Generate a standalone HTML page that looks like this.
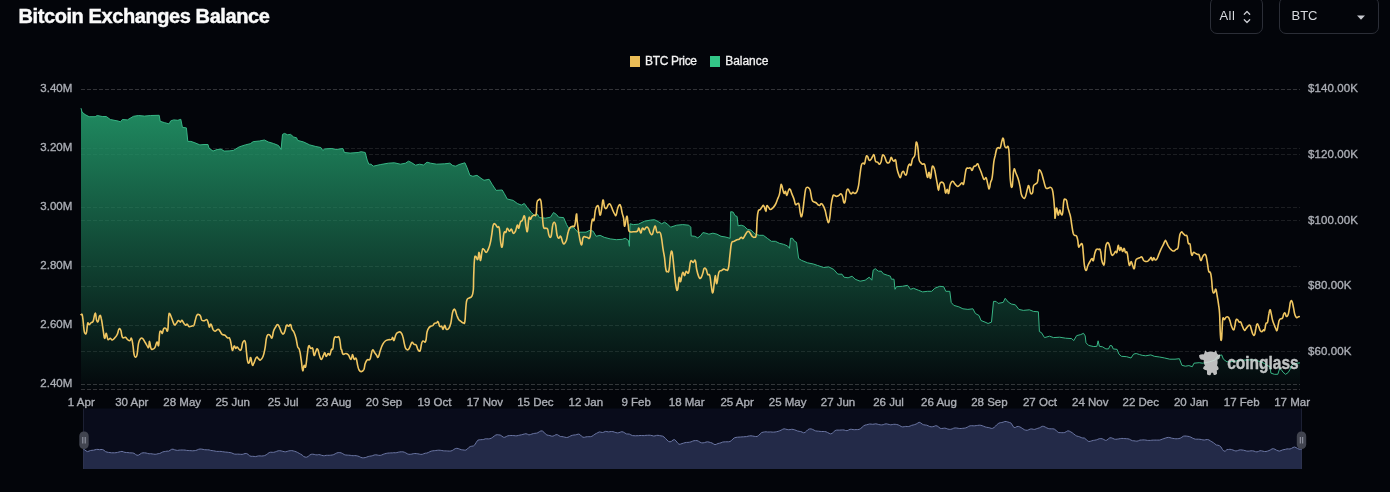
<!DOCTYPE html>
<html lang="en"><head><meta charset="utf-8"><title>Bitcoin Exchanges Balance</title>
<style>
html,body{margin:0;padding:0;background:#03050a;}
body{width:1390px;height:492px;position:relative;overflow:hidden;font-family:"Liberation Sans",sans-serif;}
.title{position:absolute;left:18.5px;top:3px;font-size:20px;font-weight:bold;color:#fafafa;-webkit-text-stroke:0.45px #fafafa;letter-spacing:-0.41px;white-space:nowrap;line-height:26px;}
.btn{position:absolute;top:-3px;height:37px;box-sizing:border-box;border:1px solid #2b2e37;border-radius:7px;color:#d7d9de;font-size:13px;line-height:35px;}
.btn span{position:absolute;top:0px;}
.legend{position:absolute;top:54px;font-size:12px;line-height:15px;color:#f2f2f2;white-space:nowrap;-webkit-text-stroke:0.3px #f2f2f2;}
.sq{position:absolute;top:56px;width:10px;height:10.5px;}
</style></head><body>
<svg width="1390" height="492" viewBox="0 0 1390 492" style="position:absolute;left:0;top:0">
<defs>
<linearGradient id="ga" x1="0" y1="89.5" x2="0" y2="389.5" gradientUnits="userSpaceOnUse">
<stop offset="0" stop-color="#229668" stop-opacity="0.98"/>
<stop offset="1" stop-color="#229668" stop-opacity="0.015"/>
</linearGradient>
</defs>
<line x1="81.0" x2="1300" y1="89.5" y2="89.5" stroke="#ffffff" stroke-opacity="0.10" stroke-width="1" stroke-dasharray="4 2"/>
<line x1="81.0" x2="1300" y1="148.5" y2="148.5" stroke="#ffffff" stroke-opacity="0.10" stroke-width="1" stroke-dasharray="4 2"/>
<line x1="81.0" x2="1300" y1="207.5" y2="207.5" stroke="#ffffff" stroke-opacity="0.10" stroke-width="1" stroke-dasharray="4 2"/>
<line x1="81.0" x2="1300" y1="266.5" y2="266.5" stroke="#ffffff" stroke-opacity="0.10" stroke-width="1" stroke-dasharray="4 2"/>
<line x1="81.0" x2="1300" y1="325.5" y2="325.5" stroke="#ffffff" stroke-opacity="0.10" stroke-width="1" stroke-dasharray="4 2"/>
<line x1="81.0" x2="1300" y1="384.5" y2="384.5" stroke="#ffffff" stroke-opacity="0.10" stroke-width="1" stroke-dasharray="4 2"/>
<line x1="81.0" x2="1300" y1="89.5" y2="89.5" stroke="#ffffff" stroke-opacity="0.10" stroke-width="1" stroke-dasharray="4 2"/>
<line x1="81.0" x2="1300" y1="154.5" y2="154.5" stroke="#ffffff" stroke-opacity="0.10" stroke-width="1" stroke-dasharray="4 2"/>
<line x1="81.0" x2="1300" y1="220.5" y2="220.5" stroke="#ffffff" stroke-opacity="0.10" stroke-width="1" stroke-dasharray="4 2"/>
<line x1="81.0" x2="1300" y1="286.5" y2="286.5" stroke="#ffffff" stroke-opacity="0.10" stroke-width="1" stroke-dasharray="4 2"/>
<line x1="81.0" x2="1300" y1="351.5" y2="351.5" stroke="#ffffff" stroke-opacity="0.10" stroke-width="1" stroke-dasharray="4 2"/>
<line x1="81.0" x2="1300" y1="389.5" y2="389.5" stroke="#ffffff" stroke-opacity="0.10" stroke-width="1" stroke-dasharray="4 2"/>
<line x1="81.0" x2="1300" y1="389.5" y2="389.5" stroke="#ffffff" stroke-opacity="0.10" stroke-width="1" stroke-dasharray="4 2"/>
<line x1="81.0" x2="1300" y1="384.5" y2="384.5" stroke="#ffffff" stroke-opacity="0.10" stroke-width="1" stroke-dasharray="4 2"/>
<path d="M81.0,108.2 L82.1,112.2 L85.1,114.6 L89.1,116.7 L95.2,116.7 L97.2,115.5 L102.2,116.5 L106.3,116.5 L110.3,119.5 L118.3,121.1 L120.4,121.9 L122.4,119.5 L127.4,119.9 L133.5,116.3 L138.5,115.5 L144.5,116.1 L150.6,115.5 L159.2,115.3 L160.2,121.3 L164.7,122.7 L169.1,123.9 L170.7,120.9 L173.7,119.9 L177.8,120.3 L180.8,119.3 L182.4,127.3 L186.4,127.9 L187.8,141.4 L190.9,141.4 L194.9,142.8 L199.9,144.9 L204.0,144.5 L208.0,144.5 L209.0,148.1 L213.0,151.1 L217.1,149.5 L221.1,149.1 L224.1,151.1 L229.1,150.9 L233.2,150.5 L239.2,146.9 L245.3,144.9 L250.3,143.7 L253.3,141.6 L259.4,141.0 L264.4,140.0 L268.4,142.0 L273.5,143.5 L278.5,145.5 L281.1,149.5 L282.5,134.4 L284.5,133.4 L287.6,134.8 L290.6,134.4 L293.6,137.0 L296.6,137.8 L297.6,140.4 L303.7,142.0 L309.7,144.9 L315.8,146.5 L320.8,147.5 L322.8,150.5 L324.8,148.9 L331.9,148.5 L335.9,149.5 L342.9,148.5 L344.4,152.5 L350.1,153.1 L358.1,152.5 L361.2,151.7 L365.2,152.5 L367.2,160.1 L368.8,164.2 L371.2,164.2 L373.2,166.2 L380.3,164.6 L388.3,163.2 L394.4,162.8 L400.4,164.2 L405.5,163.2 L408.5,161.2 L411.5,162.6 L415.5,165.2 L419.6,164.2 L423.6,165.0 L427.0,162.2 L430.6,163.2 L436.7,164.2 L444.7,163.8 L449.8,163.2 L452.8,165.6 L455.8,166.2 L458.8,164.6 L464.9,162.8 L466.9,167.2 L469.9,175.3 L472.9,176.3 L477.0,175.3 L481.0,178.3 L484.0,180.3 L489.1,179.3 L492.1,184.3 L496.1,190.4 L502.2,190.0 L504.2,193.4 L507.2,199.0 L513.2,200.4 L517.3,203.5 L521.3,205.1 L524.3,203.5 L527.3,207.5 L531.4,212.5 L534.4,215.5 L537.4,214.1 L539.4,217.6 L545.5,218.2 L550.5,217.2 L553.5,212.5 L556.5,214.5 L558.6,217.2 L563.6,217.6 L566.6,224.6 L568.6,228.2 L573.7,227.6 L578.7,233.1 L580.0,232.2 L586.0,232.2 L590.1,230.2 L593.1,231.2 L596.1,236.3 L600.1,235.3 L604.2,237.3 L610.2,238.9 L616.3,239.7 L622.3,239.3 L625.3,238.3 L628.3,240.3 L629.4,246.3 L630.0,223.8 L633.4,224.6 L638.4,224.2 L644.5,221.2 L650.5,220.1 L654.5,219.7 L658.6,221.8 L661.6,223.8 L664.6,222.2 L667.6,224.2 L670.6,227.2 L676.7,225.2 L682.7,224.6 L688.8,225.2 L690.8,227.2 L691.2,235.9 L694.8,236.3 L697.8,237.9 L700.9,235.3 L702.9,232.6 L705.9,233.2 L708.9,234.2 L712.9,233.2 L717.0,234.2 L721.0,236.3 L725.0,236.9 L730.1,238.3 L730.7,211.7 L733.1,212.1 L735.1,215.7 L737.1,216.5 L738.1,225.8 L741.2,225.2 L744.2,226.2 L747.2,229.2 L751.2,230.2 L755.3,234.2 L759.3,235.3 L763.3,235.3 L767.3,238.3 L771.4,241.3 L775.4,241.3 L779.4,243.3 L783.5,244.3 L787.5,245.9 L789.5,248.3 L790.5,238.3 L792.5,238.3 L794.5,241.3 L796.5,242.3 L798.6,258.4 L801.6,260.4 L807.6,262.8 L813.7,264.1 L817.7,265.5 L823.7,267.5 L828.8,266.9 L833.8,269.5 L837.8,274.1 L840.0,274.2 L842.0,274.2 L844.0,277.2 L848.1,277.8 L852.1,276.2 L855.1,279.2 L860.1,281.2 L865.2,280.2 L869.2,277.2 L871.8,280.2 L873.2,270.1 L875.3,268.7 L878.3,271.2 L881.3,271.2 L883.3,273.8 L887.3,275.2 L890.4,276.2 L891.4,279.2 L894.0,279.2 L895.0,289.3 L896.4,286.7 L902.4,286.3 L907.5,285.3 L910.5,289.3 L913.5,288.3 L918.6,290.3 L922.6,291.9 L927.6,291.3 L931.7,291.3 L934.7,288.3 L939.7,286.3 L943.7,286.7 L945.8,291.3 L949.8,291.3 L951.2,302.4 L953.8,305.4 L958.8,306.8 L962.9,308.8 L967.9,309.4 L972.9,308.8 L975.4,313.5 L979.0,315.5 L981.0,320.5 L985.0,322.1 L988.1,323.5 L991.5,322.1 L993.5,301.4 L996.1,301.4 L998.1,303.4 L1003.2,302.4 L1005.2,298.3 L1008.2,302.0 L1011.2,304.0 L1015.3,304.8 L1018.9,309.4 L1023.3,310.4 L1029.4,309.8 L1033.4,311.4 L1038.4,311.8 L1039.4,331.6 L1041.4,332.6 L1044.5,337.6 L1049.5,336.2 L1053.5,337.6 L1059.6,337.2 L1065.6,338.2 L1071.7,338.6 L1073.7,340.6 L1076.7,335.6 L1080.7,334.6 L1083.5,333.3 L1085.2,335.9 L1086.0,342.8 L1088.6,345.4 L1093.8,346.6 L1096.9,346.3 L1098.1,340.8 L1099.4,346.3 L1102.5,346.8 L1105.9,348.9 L1108.5,348.9 L1110.2,345.4 L1112.0,345.9 L1113.2,348.9 L1117.1,349.4 L1118.9,354.1 L1121.5,356.3 L1126.7,356.7 L1131.0,358.0 L1133.6,354.1 L1136.2,353.5 L1139.6,354.6 L1142.2,355.3 L1145.7,355.8 L1150.8,354.9 L1154.3,356.3 L1159.5,357.0 L1164.7,358.0 L1169.8,359.2 L1175.0,359.2 L1179.4,358.7 L1181.9,365.3 L1185.4,366.2 L1188.9,365.6 L1192.3,366.7 L1194.0,363.2 L1199.2,362.7 L1202.7,363.2 L1209.6,361.8 L1214.8,360.1 L1218.2,355.8 L1221.7,354.9 L1223.4,359.2 L1226.9,361.8 L1230.3,361.8 L1235.5,361.0 L1244.1,360.1 L1252.8,359.8 L1261.4,361.8 L1270.1,367.0 L1270.9,373.1 L1274.4,374.3 L1277.8,374.3 L1279.6,368.7 L1281.3,369.6 L1283.0,372.2 L1285.6,374.3 L1288.2,372.5 L1289.9,369.6 L1291.7,365.3 L1293.4,363.9 L1299.1,362.9 L1300.0,362.9 L1300.0,389.5 L81.0,389.5 Z" fill="url(#ga)"/>
<path d="M81.0,108.2 L82.1,112.2 L85.1,114.6 L89.1,116.7 L95.2,116.7 L97.2,115.5 L102.2,116.5 L106.3,116.5 L110.3,119.5 L118.3,121.1 L120.4,121.9 L122.4,119.5 L127.4,119.9 L133.5,116.3 L138.5,115.5 L144.5,116.1 L150.6,115.5 L159.2,115.3 L160.2,121.3 L164.7,122.7 L169.1,123.9 L170.7,120.9 L173.7,119.9 L177.8,120.3 L180.8,119.3 L182.4,127.3 L186.4,127.9 L187.8,141.4 L190.9,141.4 L194.9,142.8 L199.9,144.9 L204.0,144.5 L208.0,144.5 L209.0,148.1 L213.0,151.1 L217.1,149.5 L221.1,149.1 L224.1,151.1 L229.1,150.9 L233.2,150.5 L239.2,146.9 L245.3,144.9 L250.3,143.7 L253.3,141.6 L259.4,141.0 L264.4,140.0 L268.4,142.0 L273.5,143.5 L278.5,145.5 L281.1,149.5 L282.5,134.4 L284.5,133.4 L287.6,134.8 L290.6,134.4 L293.6,137.0 L296.6,137.8 L297.6,140.4 L303.7,142.0 L309.7,144.9 L315.8,146.5 L320.8,147.5 L322.8,150.5 L324.8,148.9 L331.9,148.5 L335.9,149.5 L342.9,148.5 L344.4,152.5 L350.1,153.1 L358.1,152.5 L361.2,151.7 L365.2,152.5 L367.2,160.1 L368.8,164.2 L371.2,164.2 L373.2,166.2 L380.3,164.6 L388.3,163.2 L394.4,162.8 L400.4,164.2 L405.5,163.2 L408.5,161.2 L411.5,162.6 L415.5,165.2 L419.6,164.2 L423.6,165.0 L427.0,162.2 L430.6,163.2 L436.7,164.2 L444.7,163.8 L449.8,163.2 L452.8,165.6 L455.8,166.2 L458.8,164.6 L464.9,162.8 L466.9,167.2 L469.9,175.3 L472.9,176.3 L477.0,175.3 L481.0,178.3 L484.0,180.3 L489.1,179.3 L492.1,184.3 L496.1,190.4 L502.2,190.0 L504.2,193.4 L507.2,199.0 L513.2,200.4 L517.3,203.5 L521.3,205.1 L524.3,203.5 L527.3,207.5 L531.4,212.5 L534.4,215.5 L537.4,214.1 L539.4,217.6 L545.5,218.2 L550.5,217.2 L553.5,212.5 L556.5,214.5 L558.6,217.2 L563.6,217.6 L566.6,224.6 L568.6,228.2 L573.7,227.6 L578.7,233.1 L580.0,232.2 L586.0,232.2 L590.1,230.2 L593.1,231.2 L596.1,236.3 L600.1,235.3 L604.2,237.3 L610.2,238.9 L616.3,239.7 L622.3,239.3 L625.3,238.3 L628.3,240.3 L629.4,246.3 L630.0,223.8 L633.4,224.6 L638.4,224.2 L644.5,221.2 L650.5,220.1 L654.5,219.7 L658.6,221.8 L661.6,223.8 L664.6,222.2 L667.6,224.2 L670.6,227.2 L676.7,225.2 L682.7,224.6 L688.8,225.2 L690.8,227.2 L691.2,235.9 L694.8,236.3 L697.8,237.9 L700.9,235.3 L702.9,232.6 L705.9,233.2 L708.9,234.2 L712.9,233.2 L717.0,234.2 L721.0,236.3 L725.0,236.9 L730.1,238.3 L730.7,211.7 L733.1,212.1 L735.1,215.7 L737.1,216.5 L738.1,225.8 L741.2,225.2 L744.2,226.2 L747.2,229.2 L751.2,230.2 L755.3,234.2 L759.3,235.3 L763.3,235.3 L767.3,238.3 L771.4,241.3 L775.4,241.3 L779.4,243.3 L783.5,244.3 L787.5,245.9 L789.5,248.3 L790.5,238.3 L792.5,238.3 L794.5,241.3 L796.5,242.3 L798.6,258.4 L801.6,260.4 L807.6,262.8 L813.7,264.1 L817.7,265.5 L823.7,267.5 L828.8,266.9 L833.8,269.5 L837.8,274.1 L840.0,274.2 L842.0,274.2 L844.0,277.2 L848.1,277.8 L852.1,276.2 L855.1,279.2 L860.1,281.2 L865.2,280.2 L869.2,277.2 L871.8,280.2 L873.2,270.1 L875.3,268.7 L878.3,271.2 L881.3,271.2 L883.3,273.8 L887.3,275.2 L890.4,276.2 L891.4,279.2 L894.0,279.2 L895.0,289.3 L896.4,286.7 L902.4,286.3 L907.5,285.3 L910.5,289.3 L913.5,288.3 L918.6,290.3 L922.6,291.9 L927.6,291.3 L931.7,291.3 L934.7,288.3 L939.7,286.3 L943.7,286.7 L945.8,291.3 L949.8,291.3 L951.2,302.4 L953.8,305.4 L958.8,306.8 L962.9,308.8 L967.9,309.4 L972.9,308.8 L975.4,313.5 L979.0,315.5 L981.0,320.5 L985.0,322.1 L988.1,323.5 L991.5,322.1 L993.5,301.4 L996.1,301.4 L998.1,303.4 L1003.2,302.4 L1005.2,298.3 L1008.2,302.0 L1011.2,304.0 L1015.3,304.8 L1018.9,309.4 L1023.3,310.4 L1029.4,309.8 L1033.4,311.4 L1038.4,311.8 L1039.4,331.6 L1041.4,332.6 L1044.5,337.6 L1049.5,336.2 L1053.5,337.6 L1059.6,337.2 L1065.6,338.2 L1071.7,338.6 L1073.7,340.6 L1076.7,335.6 L1080.7,334.6 L1083.5,333.3 L1085.2,335.9 L1086.0,342.8 L1088.6,345.4 L1093.8,346.6 L1096.9,346.3 L1098.1,340.8 L1099.4,346.3 L1102.5,346.8 L1105.9,348.9 L1108.5,348.9 L1110.2,345.4 L1112.0,345.9 L1113.2,348.9 L1117.1,349.4 L1118.9,354.1 L1121.5,356.3 L1126.7,356.7 L1131.0,358.0 L1133.6,354.1 L1136.2,353.5 L1139.6,354.6 L1142.2,355.3 L1145.7,355.8 L1150.8,354.9 L1154.3,356.3 L1159.5,357.0 L1164.7,358.0 L1169.8,359.2 L1175.0,359.2 L1179.4,358.7 L1181.9,365.3 L1185.4,366.2 L1188.9,365.6 L1192.3,366.7 L1194.0,363.2 L1199.2,362.7 L1202.7,363.2 L1209.6,361.8 L1214.8,360.1 L1218.2,355.8 L1221.7,354.9 L1223.4,359.2 L1226.9,361.8 L1230.3,361.8 L1235.5,361.0 L1244.1,360.1 L1252.8,359.8 L1261.4,361.8 L1270.1,367.0 L1270.9,373.1 L1274.4,374.3 L1277.8,374.3 L1279.6,368.7 L1281.3,369.6 L1283.0,372.2 L1285.6,374.3 L1288.2,372.5 L1289.9,369.6 L1291.7,365.3 L1293.4,363.9 L1299.1,362.9 L1300.0,362.9" fill="none" stroke="#38b585" stroke-width="1" stroke-linejoin="round"/>
<path d="M81.0,314.6 C81.3,315.0 81.8,312.5 82.5,316.2 C83.2,319.9 83.5,326.3 84.1,330.3 C84.7,334.3 84.5,332.8 85.1,333.3 C85.7,333.8 85.9,334.7 86.5,332.3 C87.1,330.0 87.1,325.0 87.7,323.2 C88.3,321.5 88.3,324.8 89.1,324.6 C89.9,324.5 90.2,323.4 91.2,322.6 C92.1,321.8 92.2,323.4 93.2,321.2 C94.1,319.0 94.4,313.4 95.2,313.2 C96.0,312.9 95.9,318.3 96.6,320.2 C97.3,322.1 97.5,322.3 98.2,321.2 C98.9,320.2 98.9,316.5 99.6,315.8 C100.3,315.1 100.4,314.8 101.2,318.2 C102.1,321.6 102.4,325.6 103.2,330.3 C104.0,335.0 103.9,337.6 104.6,338.3 C105.4,339.1 105.5,333.1 106.3,333.3 C107.0,333.5 106.9,338.2 107.9,339.4 C108.8,340.5 109.3,338.2 110.3,338.3 C111.3,338.5 111.1,340.2 112.3,340.0 C113.5,339.7 114.1,338.7 115.3,337.3 C116.5,336.0 116.5,336.2 117.3,334.3 C118.2,332.4 118.2,330.2 118.9,329.3 C119.7,328.3 120.0,328.4 120.8,330.3 C121.6,332.2 121.3,335.7 122.4,337.3 C123.5,339.0 124.2,336.9 125.4,337.3 C126.6,337.8 126.4,338.6 127.4,339.4 C128.4,340.2 128.9,341.0 129.8,340.8 C130.8,340.5 130.7,337.5 131.4,338.3 C132.1,339.2 132.2,340.6 132.8,344.4 C133.5,348.1 133.4,351.5 134.1,354.5 C134.7,357.4 134.8,357.1 135.5,357.1 C136.2,357.1 136.4,357.7 137.1,354.5 C137.8,351.3 137.7,347.0 138.5,343.4 C139.3,339.7 139.6,339.9 140.5,338.7 C141.4,337.6 141.5,337.6 142.5,338.3 C143.6,339.1 143.9,340.3 144.9,342.0 C146.0,343.6 146.1,344.1 146.9,345.4 C147.8,346.7 148.0,348.4 148.6,347.4 C149.2,346.5 149.0,341.1 149.6,341.4 C150.1,341.6 150.2,346.6 151.0,348.4 C151.8,350.2 152.1,349.3 153.0,349.0 C153.9,348.8 154.1,349.1 155.0,347.4 C155.9,345.8 156.2,342.4 157.0,342.0 C157.9,341.5 158.0,347.4 158.6,345.4 C159.2,343.4 159.1,336.6 159.6,333.3 C160.2,330.0 160.4,331.3 161.1,331.3 C161.7,331.3 161.6,333.9 162.3,333.3 C162.9,332.7 162.9,329.9 163.7,328.7 C164.5,327.5 164.7,327.9 165.7,328.3 C166.6,328.6 167.0,333.1 167.7,330.3 C168.4,327.5 168.2,320.0 168.7,316.2 C169.2,312.3 169.0,313.3 169.7,313.8 C170.4,314.2 170.6,315.7 171.7,318.2 C172.8,320.7 173.3,323.5 174.3,324.6 C175.4,325.8 175.4,324.2 176.4,323.2 C177.3,322.3 177.4,320.9 178.4,320.6 C179.3,320.4 179.6,322.3 180.4,322.2 C181.2,322.1 181.0,320.0 181.8,320.2 C182.6,320.5 182.9,322.1 183.8,323.2 C184.8,324.4 185.0,325.0 185.8,325.3 C186.6,325.5 186.4,323.9 187.2,324.2 C188.0,324.6 188.2,326.3 189.3,326.7 C190.3,327.0 190.8,326.2 191.9,325.9 C193.0,325.5 193.1,326.6 193.9,325.3 C194.7,323.9 194.6,322.6 195.3,320.2 C196.0,317.9 196.1,316.5 196.9,315.2 C197.8,313.9 198.1,314.3 198.9,314.6 C199.8,314.8 199.8,314.9 200.5,316.2 C201.2,317.5 201.0,319.2 201.9,320.2 C202.9,321.2 203.4,320.7 204.6,320.6 C205.7,320.5 206.0,319.0 207.0,319.8 C207.9,320.7 208.0,322.5 208.6,324.2 C209.2,326.0 208.8,327.3 209.4,327.3 C210.0,327.3 210.2,323.8 211.0,324.2 C211.9,324.7 212.1,327.6 213.0,329.3 C214.0,330.9 213.9,331.3 215.0,331.3 C216.2,331.3 216.9,329.3 218.1,329.3 C219.2,329.3 219.1,330.1 220.1,331.3 C221.0,332.5 220.9,333.4 222.1,334.3 C223.3,335.3 223.8,334.5 225.1,335.3 C226.4,336.2 226.4,337.2 227.5,337.9 C228.6,338.6 228.9,336.8 229.7,338.3 C230.6,339.8 230.5,341.6 231.2,344.4 C231.8,347.2 231.7,350.1 232.4,350.4 C233.1,350.8 233.4,346.5 234.2,346.0 C234.9,345.5 234.9,348.2 235.6,348.4 C236.3,348.7 236.3,346.8 237.2,347.0 C238.0,347.2 238.3,348.9 239.2,349.4 C240.1,350.0 240.4,351.1 241.2,349.4 C242.1,347.8 241.9,344.1 242.8,342.4 C243.8,340.6 244.4,339.6 245.3,342.0 C246.1,344.3 245.9,347.9 246.5,352.4 C247.0,357.0 247.0,359.2 247.7,361.5 C248.3,363.9 248.6,363.5 249.3,362.5 C250.0,361.6 250.0,356.9 250.7,357.5 C251.4,358.0 251.6,363.5 252.3,364.9 C253.0,366.3 252.8,365.3 253.7,363.5 C254.7,361.8 255.2,358.7 256.3,357.5 C257.4,356.3 257.4,357.9 258.3,358.5 C259.3,359.1 259.3,360.6 260.4,360.1 C261.4,359.6 261.9,359.2 263.0,356.5 C264.1,353.7 264.2,352.6 265.0,348.4 C265.8,344.2 265.7,341.5 266.4,338.3 C267.1,335.1 267.2,335.4 268.0,334.7 C268.9,334.0 269.1,334.6 270.0,335.3 C271.0,336.1 271.2,338.9 272.0,337.9 C272.8,337.0 272.7,333.8 273.5,331.3 C274.3,328.8 274.5,328.8 275.5,327.3 C276.4,325.7 276.5,324.6 277.5,324.6 C278.4,324.6 278.6,325.5 279.5,327.3 C280.4,329.1 280.6,330.8 281.5,332.3 C282.5,333.9 282.7,334.4 283.5,333.9 C284.4,333.4 284.4,332.3 285.1,330.3 C285.8,328.3 285.7,326.2 286.5,325.3 C287.3,324.3 287.6,326.4 288.6,326.3 C289.5,326.1 289.8,323.9 290.6,324.6 C291.4,325.4 291.2,327.5 292.0,329.3 C292.8,331.1 293.1,330.2 294.0,332.3 C294.9,334.4 295.2,335.1 296.0,338.3 C296.9,341.6 296.8,343.6 297.6,346.4 C298.5,349.2 298.8,347.1 299.6,350.4 C300.5,353.7 300.5,355.8 301.3,360.5 C302.0,365.2 302.0,369.4 302.7,370.6 C303.3,371.8 303.4,366.5 304.1,365.5 C304.8,364.6 304.9,369.1 305.7,366.5 C306.4,364.0 306.6,359.3 307.3,354.5 C308.0,349.7 307.9,347.4 308.7,346.0 C309.5,344.6 309.8,347.9 310.7,348.4 C311.7,349.0 311.9,346.8 312.7,348.4 C313.5,350.1 313.3,355.0 314.1,355.5 C314.9,355.9 315.3,351.8 316.2,350.4 C317.0,349.0 316.9,348.0 317.8,349.4 C318.6,350.8 318.9,354.1 319.8,356.5 C320.6,358.8 320.5,359.7 321.4,359.5 C322.2,359.3 322.6,357.0 323.4,355.5 C324.2,353.9 324.2,352.6 324.8,352.8 C325.5,353.1 325.4,356.3 326.2,356.5 C327.0,356.6 327.4,353.8 328.2,353.5 C329.1,353.1 329.1,355.8 329.9,354.9 C330.6,353.9 330.8,350.9 331.5,349.4 C332.2,347.9 332.2,351.0 332.9,348.4 C333.5,345.8 333.3,340.9 334.3,338.3 C335.2,335.8 335.7,337.4 336.9,337.3 C338.1,337.2 338.4,335.4 339.3,337.9 C340.3,340.5 340.4,345.7 340.9,348.4 C341.5,351.1 341.1,348.1 341.6,349.5 C342.1,350.8 342.0,353.2 343.0,354.1 C344.1,355.0 344.8,353.3 346.0,353.5 C347.3,353.7 347.3,353.7 348.5,355.1 C349.6,356.5 350.1,359.7 351.1,359.5 C352.0,359.4 351.8,354.6 352.5,354.5 C353.2,354.4 353.3,358.2 354.1,359.1 C354.9,360.1 355.3,357.0 356.1,358.5 C357.0,360.0 357.0,362.9 357.7,365.6 C358.4,368.3 358.3,368.6 359.1,370.0 C359.9,371.4 360.1,371.7 361.2,371.6 C362.2,371.5 362.8,371.5 363.8,369.6 C364.7,367.7 364.4,365.8 365.2,363.6 C366.0,361.3 366.1,360.9 367.2,359.9 C368.3,359.0 368.9,360.8 369.8,359.5 C370.8,358.3 370.6,356.8 371.2,354.5 C371.9,352.2 371.8,350.3 372.6,349.9 C373.4,349.4 373.7,351.2 374.6,352.5 C375.6,353.8 375.8,354.4 376.7,355.5 C377.5,356.6 377.4,358.3 378.3,357.1 C379.1,355.9 379.3,353.4 380.3,350.5 C381.3,347.5 381.5,346.6 382.7,344.4 C383.9,342.2 384.0,342.1 385.3,341.0 C386.6,339.9 386.9,340.2 388.3,339.8 C389.8,339.4 390.3,340.0 391.4,339.4 C392.4,338.8 392.2,337.1 392.8,337.4 C393.4,337.6 393.2,341.1 394.0,340.4 C394.7,339.7 395.0,336.2 396.0,334.4 C397.0,332.5 397.3,332.8 398.4,332.3 C399.5,331.9 399.8,331.4 400.8,332.3 C401.9,333.3 402.0,333.5 402.8,336.4 C403.7,339.2 403.7,341.5 404.5,344.4 C405.2,347.4 405.1,347.9 406.1,349.1 C407.0,350.2 407.5,350.3 408.5,349.5 C409.5,348.6 409.7,347.1 410.5,345.4 C411.3,343.8 411.3,342.6 412.1,342.4 C413.0,342.2 413.2,343.8 414.1,344.4 C415.1,345.0 415.2,343.8 416.1,345.0 C417.1,346.3 417.2,348.6 418.2,349.9 C419.1,351.1 419.4,352.0 420.2,350.5 C421.0,349.0 420.9,345.6 421.6,343.4 C422.2,341.2 422.1,341.5 423.0,341.0 C423.9,340.5 424.7,343.4 425.6,341.4 C426.6,339.4 426.3,335.4 427.0,332.3 C427.7,329.3 427.8,329.7 428.6,328.3 C429.5,326.9 429.7,326.9 430.6,326.3 C431.6,325.7 431.7,326.4 432.7,325.7 C433.6,325.0 433.7,323.9 434.7,323.3 C435.6,322.6 435.9,323.2 436.7,322.9 C437.5,322.5 437.4,320.9 438.1,321.7 C438.8,322.5 438.9,325.2 439.7,326.3 C440.6,327.4 440.9,325.6 441.7,326.3 C442.5,327.0 442.4,329.6 443.1,329.3 C443.8,329.1 444.0,325.3 444.7,325.3 C445.5,325.3 445.4,328.6 446.4,329.3 C447.3,330.0 447.7,329.7 448.8,328.3 C449.8,326.9 449.9,326.8 450.8,323.3 C451.6,319.7 451.7,316.4 452.4,313.2 C453.1,310.0 453.2,310.3 453.8,309.6 C454.5,308.9 454.5,308.9 455.2,310.2 C455.9,311.5 456.0,313.0 456.8,315.2 C457.7,317.4 457.9,318.2 458.8,319.6 C459.8,321.1 459.8,320.5 460.9,321.3 C461.9,322.0 462.3,322.9 463.3,322.9 C464.2,322.9 464.3,324.9 464.9,321.3 C465.5,317.6 465.4,312.1 465.9,307.2 C466.4,302.2 466.2,302.2 466.9,300.1 C467.6,298.0 467.7,299.0 468.9,298.1 C470.1,297.2 470.9,298.2 471.9,296.1 C473.0,294.0 472.9,293.8 473.4,289.0 C473.7,284.2 473.4,282.5 473.7,275.6 C474.0,268.7 474.0,263.9 474.5,259.5 C475.0,255.0 475.0,256.4 475.7,256.4 C476.5,256.4 476.9,260.4 477.7,259.5 C478.5,258.5 478.5,252.2 479.1,252.4 C479.8,252.6 479.8,260.9 480.5,260.5 C481.3,260.0 481.4,253.0 482.2,250.4 C482.9,247.8 482.8,248.9 483.8,249.4 C484.7,249.9 485.2,252.4 486.2,252.4 C487.2,252.4 487.3,251.5 488.2,249.4 C489.1,247.3 489.4,246.9 490.2,243.3 C491.1,239.8 491.1,238.5 491.8,234.3 C492.5,230.1 492.4,227.6 493.2,225.2 C494.0,222.9 494.3,223.7 495.3,224.2 C496.2,224.7 496.3,226.3 497.3,227.2 C498.2,228.2 498.5,224.7 499.3,228.2 C500.1,231.8 500.0,238.1 500.7,242.3 C501.4,246.6 501.6,248.5 502.3,246.4 C503.1,244.3 503.1,236.6 503.9,233.3 C504.8,230.0 505.1,233.4 505.9,232.3 C506.7,231.1 506.5,228.5 507.3,228.2 C508.1,228.0 508.4,231.0 509.4,231.3 C510.3,231.5 510.4,228.8 511.4,229.2 C512.3,229.7 512.4,232.8 513.4,233.3 C514.3,233.7 514.5,233.1 515.4,231.3 C516.3,229.4 516.6,225.9 517.4,225.2 C518.2,224.5 518.1,228.9 518.8,228.2 C519.5,227.5 519.6,224.1 520.4,222.2 C521.3,220.3 521.5,221.6 522.4,220.2 C523.4,218.8 523.6,214.5 524.5,216.2 C525.3,217.8 525.4,223.8 526.1,227.2 C526.8,230.7 526.8,233.0 527.5,230.9 C528.1,228.7 528.2,220.9 528.9,218.2 C529.6,215.4 529.8,219.6 530.5,219.2 C531.3,218.7 531.3,217.1 532.1,216.2 C533.0,215.2 533.2,215.6 534.1,215.1 C535.1,214.7 535.5,217.0 536.1,214.1 C536.8,211.3 536.4,206.3 536.9,203.1 C537.5,199.8 537.7,200.7 538.6,200.0 C539.4,199.3 539.9,198.4 540.6,200.0 C541.3,201.7 541.1,202.6 541.6,207.1 C542.1,211.6 542.1,214.5 542.6,219.2 C543.1,223.9 542.9,225.1 543.6,227.2 C544.3,229.3 544.7,227.8 545.6,228.2 C546.6,228.7 546.8,227.6 547.6,229.2 C548.4,230.9 548.2,233.6 549.0,235.3 C549.8,236.9 550.2,238.6 551.1,236.3 C551.9,233.9 551.9,228.5 552.7,225.2 C553.4,221.9 553.6,222.2 554.3,222.2 C555.0,222.2 555.0,222.2 555.7,225.2 C556.3,228.3 556.4,232.2 557.1,235.3 C557.8,238.3 557.9,238.1 558.7,238.3 C559.6,238.5 559.8,235.4 560.7,236.3 C561.7,237.2 561.9,240.6 562.7,242.3 C563.6,244.1 563.5,244.2 564.3,243.7 C565.2,243.3 565.4,243.2 566.4,240.3 C567.3,237.4 567.4,234.3 568.4,231.3 C569.3,228.2 569.4,228.4 570.4,227.2 C571.4,226.1 571.8,226.7 572.8,226.2 C573.8,225.8 574.0,228.0 574.8,225.2 C575.7,222.4 575.9,215.1 576.4,214.1 C577.0,213.2 576.7,216.7 577.2,221.2 C577.8,225.7 578.1,228.3 578.8,233.3 C579.6,238.2 579.8,239.8 580.5,242.3 C581.2,244.9 581.2,245.5 581.9,244.4 C582.5,243.2 582.1,238.9 583.3,237.3 C584.5,235.7 585.4,237.3 586.9,237.3 C588.5,237.3 588.9,240.1 589.9,237.3 C591.0,234.5 590.7,229.4 591.3,225.2 C591.9,221.0 591.9,220.3 592.5,219.2 C593.2,218.0 593.3,222.3 594.0,220.2 C594.6,218.1 594.7,213.4 595.4,210.1 C596.1,206.8 596.2,206.8 597.0,206.1 C597.7,205.4 597.9,205.0 598.6,207.1 C599.3,209.2 599.3,214.7 600.0,215.1 C600.7,215.6 600.9,212.6 601.6,209.1 C602.3,205.6 602.3,200.5 603.0,200.0 C603.7,199.6 603.8,205.2 604.6,207.1 C605.5,209.0 605.7,208.8 606.6,208.1 C607.6,207.4 607.7,204.8 608.7,204.1 C609.6,203.4 609.7,203.7 610.7,205.1 C611.6,206.5 611.8,208.0 612.7,210.1 C613.6,212.2 613.9,213.0 614.7,214.1 C615.5,215.3 615.5,216.3 616.1,215.1 C616.8,214.0 616.8,211.5 617.5,209.1 C618.2,206.8 618.4,205.8 619.1,205.1 C619.9,204.4 620.0,204.2 620.7,206.1 C621.5,208.0 621.5,210.3 622.2,213.1 C622.8,215.9 623.0,215.1 623.6,218.2 C624.2,221.2 624.0,226.7 624.8,226.2 C625.5,225.8 626.0,216.4 626.8,216.2 C627.6,215.9 627.6,221.7 628.2,225.2 C628.8,228.7 628.2,229.8 629.2,231.3 C630.4,232.8 631.4,231.7 633.2,231.7 C635.1,231.7 636.0,232.1 637.3,231.3 C638.6,230.5 638.0,227.8 638.9,228.2 C639.7,228.7 640.1,233.3 640.9,233.3 C641.7,233.3 641.5,229.1 642.3,228.2 C643.1,227.4 643.4,229.9 644.3,229.6 C645.3,229.4 645.4,227.6 646.3,227.2 C647.3,226.9 647.4,226.8 648.3,228.2 C649.3,229.6 649.4,231.9 650.4,233.3 C651.3,234.7 651.6,235.2 652.4,234.3 C653.2,233.3 653.1,231.1 653.8,229.2 C654.5,227.4 654.6,225.5 655.4,226.2 C656.1,226.9 656.0,230.9 657.0,232.3 C658.0,233.7 658.8,231.1 659.8,232.3 C660.9,233.4 660.7,233.3 661.4,237.3 C662.2,241.3 662.3,244.7 663.1,249.4 C663.8,254.1 663.8,252.7 664.5,257.4 C665.1,262.1 665.2,266.2 665.9,269.5 C666.6,272.8 666.7,271.5 667.5,271.5 C668.2,271.5 668.4,273.3 669.1,269.5 C669.8,265.8 669.8,259.7 670.5,255.4 C671.2,251.2 671.3,250.5 671.9,251.4 C672.5,252.3 672.5,254.3 673.1,259.5 C673.7,264.6 673.9,267.5 674.5,273.6 C675.2,279.7 675.2,281.9 675.9,285.6 C676.6,289.4 676.8,291.6 677.6,289.7 C678.3,287.8 678.5,279.5 679.2,277.6 C679.9,275.7 679.8,282.8 680.6,281.6 C681.4,280.4 681.6,274.0 682.6,272.6 C683.5,271.1 683.8,275.8 684.6,275.6 C685.4,275.3 685.1,272.3 686.0,271.5 C687.0,270.8 687.6,274.9 688.6,272.6 C689.7,270.2 689.6,263.8 690.6,261.5 C691.7,259.1 692.2,262.7 693.3,262.5 C694.3,262.2 694.5,258.8 695.3,260.5 C696.1,262.1 695.9,265.8 696.7,269.5 C697.5,273.3 697.8,274.6 698.7,276.6 C699.6,278.6 699.8,278.7 700.7,278.0 C701.7,277.3 701.9,275.8 702.7,273.6 C703.5,271.4 703.3,269.5 704.1,268.5 C704.9,267.6 705.3,268.1 706.2,269.5 C707.0,270.9 706.9,273.2 707.8,274.6 C708.6,276.0 708.9,272.8 709.8,275.6 C710.6,278.4 710.7,282.7 711.4,286.7 C712.1,290.6 712.1,293.4 712.8,292.7 C713.5,292.0 713.6,287.6 714.2,283.6 C714.8,279.6 714.8,275.6 715.4,275.6 C716.0,275.6 716.0,284.3 716.8,283.6 C717.6,282.9 717.8,275.6 718.8,272.6 C719.9,269.5 720.3,271.3 721.5,270.5 C722.6,269.7 722.9,269.3 723.9,269.1 C724.9,269.0 724.9,270.1 725.9,269.9 C726.9,269.8 727.4,271.9 728.3,268.5 C729.3,265.1 729.2,261.3 729.9,255.4 C730.7,249.6 730.6,246.6 731.5,243.3 C732.5,240.1 732.7,242.2 734.0,241.3 C735.2,240.5 735.8,240.2 737.0,239.7 C738.2,239.2 738.2,239.9 739.1,239.3 C740.1,238.7 740.2,237.5 741.2,237.3 C742.1,237.0 742.0,239.2 743.2,238.3 C744.3,237.3 745.0,234.9 746.2,233.2 C747.4,231.6 747.3,231.2 748.2,231.2 C749.1,231.2 749.3,232.1 750.2,233.2 C751.2,234.4 751.3,235.3 752.2,236.3 C753.2,237.2 753.3,237.6 754.2,237.3 C755.2,236.9 755.6,238.6 756.3,234.6 C756.9,230.7 756.6,225.6 757.1,220.1 C757.5,214.7 757.5,213.6 758.3,211.1 C759.0,208.7 759.3,210.6 760.3,209.5 C761.2,208.5 761.5,207.4 762.3,206.5 C763.1,205.7 763.1,204.7 763.9,205.9 C764.8,207.1 765.3,211.5 765.9,211.5 C766.6,211.5 766.1,206.8 766.7,205.9 C767.4,205.0 767.9,206.7 768.7,207.5 C769.6,208.4 769.4,209.4 770.4,209.5 C771.3,209.6 771.6,209.1 772.8,207.9 C774.0,206.7 774.3,206.5 775.4,204.5 C776.5,202.5 776.5,201.8 777.4,199.5 C778.4,197.1 778.7,197.0 779.4,194.4 C780.1,191.8 780.0,190.7 780.4,188.4 C780.9,186.0 780.9,184.1 781.4,184.4 C782.0,184.6 782.2,187.3 782.8,189.4 C783.5,191.5 783.4,192.9 784.1,193.4 C784.7,193.9 784.8,190.9 785.5,191.4 C786.1,191.9 786.2,195.7 786.9,195.4 C787.6,195.2 787.7,191.8 788.5,190.4 C789.2,189.0 789.3,188.4 790.1,189.4 C790.9,190.3 791.2,192.1 792.1,194.4 C793.1,196.8 793.3,197.1 794.1,199.5 C794.9,201.8 794.7,203.6 795.5,204.5 C796.3,205.4 796.8,203.5 797.6,203.5 C798.4,203.5 798.4,202.4 799.0,204.5 C799.6,206.6 799.6,209.7 800.2,212.6 C800.8,215.4 800.9,217.3 801.6,216.6 C802.2,215.9 802.4,213.5 803.0,209.5 C803.6,205.5 803.6,204.2 804.2,199.5 C804.8,194.8 805.0,192.2 805.6,189.4 C806.3,186.6 806.3,187.8 807.0,187.4 C807.7,187.0 807.9,187.1 808.6,187.8 C809.4,188.5 809.5,187.9 810.2,190.4 C810.9,192.9 811.0,195.9 811.7,198.5 C812.3,201.0 812.1,200.5 813.1,201.5 C814.0,202.4 814.6,201.8 815.7,202.5 C816.8,203.2 816.8,203.8 817.7,204.5 C818.6,205.2 818.9,205.7 819.7,205.5 C820.5,205.3 820.3,203.5 821.1,203.5 C821.9,203.5 822.2,203.9 823.1,205.5 C824.1,207.1 824.3,207.7 825.2,210.5 C826.0,213.4 826.0,214.8 826.8,217.6 C827.5,220.4 827.7,222.6 828.4,222.6 C829.1,222.6 829.1,221.8 829.8,217.6 C830.4,213.4 830.5,209.4 831.2,204.5 C831.9,199.6 832.1,198.6 832.8,196.4 C833.6,194.3 833.6,195.4 834.4,195.4 C835.3,195.4 835.4,196.4 836.4,196.4 C837.5,196.4 837.8,196.0 838.8,195.4 C839.9,194.8 840.0,193.6 840.9,193.8 C841.7,194.1 841.8,194.4 842.5,196.4 C843.2,198.5 843.2,201.5 843.9,202.5 C844.5,203.4 844.7,203.1 845.3,200.5 C845.9,197.9 845.9,194.1 846.5,191.4 C847.1,188.7 847.3,189.0 847.9,189.0 C848.6,189.0 848.6,190.3 849.3,191.4 C850.0,192.5 850.1,193.6 850.9,193.8 C851.8,194.1 852.0,192.5 852.9,192.4 C853.9,192.3 854.0,193.7 855.0,193.4 C855.9,193.2 856.1,193.3 857.0,191.4 C857.8,189.5 857.9,189.4 858.6,185.4 C859.3,181.4 859.3,179.0 860.0,174.3 C860.7,169.6 860.7,167.8 861.4,165.2 C862.1,162.6 862.3,163.6 863.0,163.2 C863.8,162.8 863.9,165.0 864.6,163.6 C865.3,162.2 865.4,158.9 866.0,157.2 C866.7,155.4 866.7,155.4 867.5,156.2 C868.2,156.9 868.2,159.5 869.1,160.2 C869.9,160.9 870.2,160.1 871.1,159.2 C871.9,158.2 872.0,157.1 872.7,156.2 C873.4,155.2 873.4,154.0 874.1,155.1 C874.8,156.3 874.7,159.5 875.5,161.2 C876.3,162.8 876.6,161.5 877.5,162.2 C878.5,162.9 878.7,164.4 879.5,164.2 C880.4,164.0 880.5,163.1 881.2,161.2 C881.8,159.3 881.6,157.6 882.2,156.2 C882.7,154.7 882.9,154.7 883.6,155.1 C884.3,155.6 884.4,156.5 885.2,158.2 C885.9,159.8 885.9,161.1 886.8,162.2 C887.6,163.3 888.0,163.3 888.8,162.8 C889.6,162.3 889.7,161.5 890.2,160.2 C890.8,158.9 890.6,157.2 891.2,157.2 C891.8,157.2 892.1,159.2 892.8,160.2 C893.5,161.1 893.6,161.2 894.2,161.2 C894.9,161.2 895.0,158.5 895.7,160.2 C896.3,161.8 896.3,165.2 896.9,168.2 C897.5,171.3 897.5,171.1 898.3,173.3 C899.1,175.5 899.5,177.7 900.3,177.7 C901.1,177.7 901.0,174.8 901.7,173.3 C902.4,171.8 902.6,171.0 903.3,171.3 C904.1,171.5 904.2,173.6 904.9,174.3 C905.7,175.0 905.8,175.9 906.5,174.3 C907.2,172.6 907.3,169.6 907.9,167.2 C908.6,164.9 908.6,164.7 909.4,164.2 C910.1,163.7 910.3,166.4 911.0,165.2 C911.7,164.0 911.7,161.1 912.4,159.2 C913.0,157.3 913.2,158.3 913.8,157.2 C914.4,156.0 914.5,157.0 915.0,154.1 C915.5,151.3 915.4,147.9 915.8,145.1 C916.2,142.3 916.1,141.6 916.6,142.1 C917.1,142.5 917.2,143.1 917.8,147.1 C918.4,151.1 918.4,155.6 919.0,159.2 C919.6,162.7 919.6,161.0 920.4,162.2 C921.2,163.4 921.5,163.7 922.4,164.2 C923.4,164.7 923.7,162.8 924.5,164.2 C925.3,165.6 925.2,167.2 925.9,170.3 C926.6,173.3 926.7,176.8 927.5,177.3 C928.2,177.8 928.4,172.0 929.1,172.3 C929.8,172.5 929.8,179.2 930.5,178.3 C931.2,177.4 931.3,171.1 931.9,168.2 C932.5,165.4 932.5,166.0 933.1,166.2 C933.7,166.5 933.9,166.9 934.5,169.2 C935.2,171.6 935.3,173.0 935.9,176.3 C936.6,179.6 936.5,180.1 937.2,183.3 C937.8,186.6 937.9,190.4 938.6,190.4 C939.2,190.4 938.9,185.1 940.0,183.3 C941.1,181.6 942.1,182.0 943.2,182.9 C944.3,183.9 944.0,185.0 944.6,187.4 C945.2,189.7 945.0,192.5 945.6,193.0 C946.2,193.5 946.5,189.3 947.2,189.4 C947.9,189.5 948.0,194.4 948.6,193.4 C949.3,192.5 949.3,188.1 950.0,185.4 C950.7,182.6 950.9,182.6 951.7,181.7 C952.4,180.9 952.4,181.1 953.3,181.7 C954.1,182.3 954.2,183.3 955.3,184.4 C956.3,185.4 956.7,186.2 957.7,186.4 C958.7,186.5 958.7,185.8 959.7,185.0 C960.7,184.1 961.1,183.0 962.0,182.8 C962.9,182.6 962.9,185.7 963.6,184.0 C964.3,182.2 964.4,178.9 965.0,175.3 C965.7,171.8 965.6,170.3 966.4,168.7 C967.2,167.0 967.5,168.5 968.5,168.3 C969.4,168.1 969.6,167.4 970.5,167.9 C971.3,168.3 971.3,170.6 972.1,170.3 C972.8,170.0 972.9,167.7 973.7,166.7 C974.5,165.6 974.8,166.5 975.7,165.9 C976.7,165.2 976.9,163.5 977.7,163.8 C978.5,164.2 978.3,165.3 979.1,167.3 C979.9,169.2 980.4,170.2 981.2,172.3 C982.0,174.4 981.9,174.7 982.6,176.3 C983.3,178.0 983.3,179.0 984.2,179.4 C985.0,179.7 985.3,176.8 986.2,177.9 C987.0,179.1 987.1,181.9 987.8,184.4 C988.5,186.9 988.6,189.3 989.2,188.8 C989.9,188.4 989.9,185.1 990.6,182.4 C991.3,179.7 991.5,182.0 992.2,177.3 C993.0,172.6 993.1,167.4 993.8,162.2 C994.5,157.1 994.6,158.2 995.3,155.2 C995.9,152.1 996.0,150.9 996.7,149.1 C997.4,147.4 997.4,148.1 998.3,147.7 C999.1,147.4 999.4,149.3 1000.3,147.7 C1001.1,146.2 1001.2,143.2 1001.9,141.1 C1002.6,138.9 1002.7,137.3 1003.3,138.5 C1004.0,139.6 1004.0,144.0 1004.7,146.1 C1005.4,148.3 1005.5,147.5 1006.3,147.7 C1007.2,148.0 1007.6,144.7 1008.3,147.1 C1009.1,149.6 1008.9,150.4 1009.4,158.2 C1009.8,166.0 1009.7,173.5 1010.4,180.4 C1011.0,187.2 1011.4,187.4 1012.0,187.4 C1012.5,187.4 1012.3,184.6 1012.8,180.4 C1013.2,176.1 1013.2,170.9 1014.0,169.3 C1014.7,167.6 1015.1,171.2 1016.0,173.3 C1016.9,175.4 1017.1,175.3 1018.0,178.3 C1019.0,181.4 1019.2,182.6 1020.0,186.4 C1020.8,190.2 1020.6,191.7 1021.4,194.5 C1022.2,197.2 1022.5,197.6 1023.5,198.1 C1024.4,198.6 1024.5,198.7 1025.5,196.5 C1026.4,194.2 1026.7,190.9 1027.5,188.4 C1028.3,186.0 1028.2,185.0 1028.9,186.0 C1029.6,187.0 1029.7,191.3 1030.5,192.8 C1031.3,194.4 1031.8,194.4 1032.5,192.8 C1033.2,191.3 1032.8,188.1 1033.5,186.0 C1034.2,183.9 1034.6,185.1 1035.5,184.0 C1036.5,182.9 1036.8,184.1 1037.6,181.4 C1038.3,178.6 1038.0,175.0 1038.6,172.3 C1039.1,169.6 1039.1,169.6 1039.8,169.9 C1040.5,170.1 1040.7,170.9 1041.6,173.3 C1042.5,175.8 1042.7,177.1 1043.6,180.4 C1044.5,183.6 1044.7,185.5 1045.6,187.4 C1046.6,189.3 1046.5,188.4 1047.6,188.4 C1048.7,188.4 1049.2,187.2 1050.2,187.4 C1051.3,187.6 1051.5,186.8 1052.3,189.4 C1053.1,192.0 1053.1,193.6 1053.7,198.5 C1054.2,203.4 1054.3,206.0 1054.7,210.6 C1055.0,215.2 1054.7,218.7 1055.1,218.2 C1055.5,217.6 1055.8,208.8 1056.5,208.1 C1057.2,207.4 1057.4,214.7 1058.1,215.1 C1058.9,215.6 1059.0,210.3 1059.7,210.1 C1060.4,209.9 1060.5,213.4 1061.2,214.1 C1061.8,214.8 1062.0,216.2 1062.6,213.1 C1063.2,210.1 1063.2,204.2 1063.8,201.0 C1064.4,197.8 1064.5,199.5 1065.2,199.4 C1065.8,199.3 1066.0,198.9 1066.6,200.6 C1067.2,202.4 1067.2,204.4 1067.8,207.1 C1068.4,209.8 1068.6,209.8 1069.2,212.1 C1069.9,214.5 1070.0,214.1 1070.6,217.2 C1071.2,220.2 1071.2,221.5 1071.8,225.2 C1072.4,229.0 1072.6,230.9 1073.2,233.3 C1073.9,235.6 1073.8,234.6 1074.6,235.3 C1075.4,236.0 1075.9,234.9 1076.7,236.3 C1077.4,237.7 1077.4,238.8 1077.9,241.3 C1078.3,243.8 1078.1,246.1 1078.7,247.0 C1079.2,247.8 1079.4,245.6 1080.3,245.0 C1081.1,244.3 1081.6,242.4 1082.3,244.4 C1083.0,246.3 1082.8,248.7 1083.3,253.4 C1083.8,258.1 1083.7,260.5 1084.3,264.5 C1084.9,268.5 1085.1,270.3 1085.9,270.5 C1086.8,270.8 1087.0,267.6 1087.9,265.5 C1088.9,263.4 1089.0,263.1 1090.0,261.5 C1090.9,259.8 1091.2,258.7 1092.0,258.5 C1092.8,258.2 1092.7,261.6 1093.4,260.5 C1094.0,259.3 1094.1,256.0 1094.8,253.4 C1095.5,250.8 1095.6,250.3 1096.4,249.4 C1097.2,248.4 1097.5,249.2 1098.4,249.4 C1099.4,249.6 1099.7,248.0 1100.4,250.4 C1101.2,252.7 1101.0,256.2 1101.6,259.5 C1102.3,262.8 1102.6,263.8 1103.3,264.5 C1103.9,265.2 1103.9,266.2 1104.5,262.5 C1105.0,258.7 1104.9,252.8 1105.5,248.4 C1106.0,243.9 1106.2,244.5 1106.9,243.3 C1107.6,242.2 1107.8,242.4 1108.5,243.3 C1109.2,244.3 1109.2,244.8 1109.9,247.4 C1110.6,250.0 1110.7,252.8 1111.5,254.4 C1112.4,256.1 1112.6,255.1 1113.5,254.4 C1114.5,253.7 1114.7,251.9 1115.5,251.4 C1116.3,250.9 1116.3,253.8 1116.9,252.4 C1117.6,251.0 1117.5,245.8 1118.2,245.4 C1118.8,244.9 1118.9,249.9 1119.6,250.4 C1120.2,250.9 1120.3,247.1 1121.0,247.4 C1121.7,247.6 1121.8,251.2 1122.6,251.4 C1123.3,251.6 1123.5,248.1 1124.2,248.4 C1124.9,248.6 1124.8,251.5 1125.4,252.4 C1126.1,253.4 1126.4,250.8 1127.0,252.4 C1127.7,254.1 1127.7,256.4 1128.2,259.5 C1128.8,262.5 1128.8,265.0 1129.4,265.5 C1130.1,266.0 1130.3,261.5 1131.1,261.5 C1131.8,261.5 1131.9,263.9 1132.7,265.5 C1133.4,267.1 1133.6,269.7 1134.3,268.5 C1135.0,267.4 1134.9,262.8 1135.7,260.5 C1136.5,258.1 1136.8,259.1 1137.7,258.5 C1138.6,257.8 1138.8,258.2 1139.7,257.8 C1140.7,257.5 1140.8,256.4 1141.7,257.0 C1142.7,257.7 1142.8,259.4 1143.7,260.5 C1144.7,261.5 1144.8,261.3 1145.8,261.5 C1146.7,261.6 1146.8,261.6 1147.8,261.1 C1148.7,260.5 1149.0,259.9 1149.8,259.1 C1150.6,258.2 1150.6,257.1 1151.2,257.4 C1151.8,257.8 1151.8,260.4 1152.4,260.5 C1153.0,260.6 1153.2,258.0 1153.8,257.8 C1154.5,257.7 1154.5,259.6 1155.2,259.9 C1155.9,260.1 1156.0,260.3 1156.8,259.1 C1157.7,257.8 1157.9,256.7 1158.8,254.4 C1159.8,252.2 1159.9,251.5 1160.9,249.4 C1161.8,247.3 1161.9,247.2 1162.9,245.4 C1163.8,243.5 1164.2,242.4 1164.9,241.3 C1165.6,240.3 1165.2,240.0 1165.9,240.9 C1166.6,241.9 1167.0,243.6 1167.9,245.4 C1168.9,247.1 1169.0,247.2 1169.9,248.4 C1170.9,249.6 1171.0,249.8 1171.9,250.4 C1172.9,251.0 1173.0,251.2 1174.0,251.0 C1174.9,250.8 1175.0,250.1 1176.0,249.4 C1176.9,248.6 1177.3,249.9 1178.0,247.8 C1178.7,245.7 1178.5,243.5 1179.0,240.3 C1179.5,237.2 1179.4,236.3 1180.0,234.3 C1180.6,232.3 1180.7,232.1 1181.4,231.9 C1182.1,231.6 1182.2,232.5 1183.0,233.3 C1183.9,234.1 1184.1,234.6 1185.0,235.3 C1186.0,236.0 1186.3,234.4 1187.1,236.3 C1187.8,238.2 1187.6,241.5 1188.3,243.3 C1189.0,245.2 1189.4,242.2 1190.1,244.4 C1190.7,246.5 1190.6,249.8 1191.1,252.4 C1191.5,255.0 1191.5,255.4 1192.1,255.4 C1192.7,255.4 1192.7,252.9 1193.5,252.4 C1194.3,251.9 1194.6,252.9 1195.5,253.4 C1196.5,253.9 1196.7,254.0 1197.5,254.4 C1198.4,254.8 1198.4,253.6 1199.1,255.0 C1199.9,256.4 1199.9,260.1 1200.7,260.5 C1201.6,260.8 1201.8,257.8 1202.8,256.4 C1203.7,255.0 1204.0,254.4 1204.8,254.4 C1205.6,254.4 1205.5,254.1 1206.2,256.4 C1206.8,258.8 1207.0,261.0 1207.6,264.5 C1208.2,268.0 1208.1,269.7 1208.8,271.5 C1209.5,273.4 1209.8,270.7 1210.4,272.6 C1211.1,274.4 1211.1,275.5 1211.6,279.6 C1212.1,283.8 1212.0,287.3 1212.6,290.3 C1213.2,293.4 1213.5,293.0 1214.2,292.8 C1215.0,292.5 1215.2,288.4 1215.9,289.2 C1216.5,289.9 1216.5,292.5 1217.2,296.0 C1217.8,299.5 1217.9,300.0 1218.5,304.1 C1219.0,308.3 1219.1,306.7 1219.6,313.9 C1220.0,321.1 1220.0,329.0 1220.4,335.0 C1220.8,341.1 1221.0,340.7 1221.4,339.9 C1221.8,339.2 1221.7,336.7 1222.0,331.8 C1222.4,326.9 1222.3,321.6 1222.8,318.8 C1223.4,315.9 1223.7,320.0 1224.5,319.6 C1225.2,319.2 1225.2,317.7 1226.1,317.2 C1227.0,316.6 1227.3,316.4 1228.2,317.2 C1229.1,317.9 1229.1,318.3 1229.8,320.4 C1230.6,322.5 1230.6,323.9 1231.5,326.1 C1232.3,328.3 1232.7,329.6 1233.4,329.8 C1234.2,330.0 1234.1,329.1 1234.7,326.9 C1235.3,324.7 1235.2,322.1 1235.9,320.4 C1236.5,318.7 1236.7,319.2 1237.5,319.6 C1238.2,320.0 1238.3,321.5 1239.1,322.0 C1239.9,322.6 1240.0,321.1 1240.7,322.0 C1241.5,323.0 1241.5,324.2 1242.4,326.1 C1243.2,328.0 1243.6,329.6 1244.5,330.2 C1245.3,330.7 1245.3,329.5 1246.1,328.5 C1246.9,327.6 1247.1,326.9 1248.0,326.1 C1249.0,325.3 1249.2,324.5 1250.0,325.3 C1250.8,326.0 1250.6,327.3 1251.3,329.3 C1252.0,331.4 1252.2,333.0 1252.9,334.2 C1253.7,335.5 1253.9,336.0 1254.6,334.7 C1255.2,333.4 1255.3,331.0 1255.9,328.5 C1256.4,326.0 1256.3,324.6 1257.0,324.0 C1257.6,323.4 1257.9,324.6 1258.6,326.1 C1259.4,327.6 1259.5,329.2 1260.2,330.5 C1261.0,331.8 1261.1,331.9 1261.9,331.8 C1262.6,331.6 1262.9,330.2 1263.5,329.8 C1264.1,329.5 1264.1,331.6 1264.6,330.2 C1265.2,328.7 1265.3,325.6 1265.9,323.7 C1266.6,321.8 1266.9,324.3 1267.6,322.0 C1268.2,319.8 1268.3,316.7 1268.9,313.9 C1269.4,311.1 1269.5,310.0 1270.0,309.8 C1270.5,309.6 1270.6,310.8 1271.1,313.1 C1271.7,315.4 1271.8,316.9 1272.4,319.6 C1273.1,322.2 1273.3,322.4 1274.1,324.5 C1274.8,326.6 1275.0,327.1 1275.7,328.5 C1276.4,329.9 1276.4,331.2 1277.0,330.5 C1277.6,329.7 1277.6,327.7 1278.1,325.3 C1278.7,322.9 1278.6,321.6 1279.3,320.1 C1279.9,318.6 1280.1,319.3 1280.9,318.8 C1281.7,318.3 1281.8,319.1 1282.5,318.0 C1283.2,316.8 1283.2,315.0 1283.8,313.9 C1284.4,312.8 1284.6,312.5 1285.1,313.1 C1285.7,313.7 1285.6,315.8 1286.3,316.3 C1286.9,316.8 1287.2,316.5 1287.9,315.2 C1288.5,313.9 1288.5,313.6 1289.0,310.7 C1289.6,307.7 1289.8,304.9 1290.3,302.5 C1290.9,300.2 1290.8,300.6 1291.3,300.6 C1291.8,300.5 1291.7,300.4 1292.3,302.2 C1292.8,304.0 1293.0,305.3 1293.6,308.2 C1294.2,311.1 1294.2,312.6 1294.9,314.7 C1295.6,316.9 1295.7,317.0 1296.5,317.5 C1297.3,318.0 1297.8,317.1 1298.5,316.8 C1299.1,316.6 1299.1,316.6 1299.3,316.5" fill="none" stroke="#f0c661" stroke-width="1.6" stroke-linejoin="round" stroke-linecap="round"/>
<g opacity="0.86">
<g fill="#dcdcdc" transform="translate(1199,350)">
<path d="M6.2,0.2 L8,2.2 Q11.6,1 15.2,2.2 L17,0.2 L18,3.4 Q18.8,4.4 19.4,4.8 L20.9,4.6 Q21.4,7.2 20.2,8.8 L18.4,9.8 Q19,13 18,15.4 Q19.8,16.8 19.6,19 Q18.8,20.4 17.8,20.2 L18,23.8 Q16.8,25.4 14.8,25 L14,22.8 L12.4,22.8 L11.6,25 Q9.4,25.6 8,24.2 L8,20.4 Q5.2,20.4 4,18.6 Q4.4,16.6 6,15.6 Q4.4,13 4.8,10 L1.8,9.4 Q-0.2,7.6 0.1,5.2 Q1.6,4.2 4.6,4.4 L5.4,3.2 Z"/>
</g>
<text x="1227.2" y="368.7" font-family="'Liberation Sans', sans-serif" font-weight="bold" font-size="17.5" fill="#dfe2e2" stroke="#dfe2e2" stroke-width="0.35" stroke-linejoin="round" textLength="71.5" lengthAdjust="spacingAndGlyphs">coinglass</text>
</g>
<g font-family="'Liberation Sans', sans-serif" font-size="11.5" fill="#abaeb5" stroke="#abaeb5" stroke-width="0.35" letter-spacing="0">
<text x="72.3" y="92.1" text-anchor="end" letter-spacing="0">3.40M</text>
<text x="72.3" y="151.1" text-anchor="end" letter-spacing="0">3.20M</text>
<text x="72.3" y="210.1" text-anchor="end" letter-spacing="0">3.00M</text>
<text x="72.3" y="269.1" text-anchor="end" letter-spacing="0">2.80M</text>
<text x="72.3" y="328.1" text-anchor="end" letter-spacing="0">2.60M</text>
<text x="72.3" y="387.1" text-anchor="end" letter-spacing="0">2.40M</text>
<text x="1308" y="92.1" letter-spacing="0.08">$140.00K</text>
<text x="1308" y="157.9" letter-spacing="0.08">$120.00K</text>
<text x="1308" y="223.7" letter-spacing="0.08">$100.00K</text>
<text x="1308" y="289.3" letter-spacing="0.08">$80.00K</text>
<text x="1308" y="354.7" letter-spacing="0.08">$60.00K</text>
<text x="81.3" y="405.9" text-anchor="middle">1 Apr</text>
<text x="131.8" y="405.9" text-anchor="middle">30 Apr</text>
<text x="182.2" y="405.9" text-anchor="middle">28 May</text>
<text x="232.7" y="405.9" text-anchor="middle">25 Jun</text>
<text x="283.1" y="405.9" text-anchor="middle">25 Jul</text>
<text x="333.6" y="405.9" text-anchor="middle">23 Aug</text>
<text x="384.0" y="405.9" text-anchor="middle">20 Sep</text>
<text x="434.5" y="405.9" text-anchor="middle">19 Oct</text>
<text x="484.9" y="405.9" text-anchor="middle">17 Nov</text>
<text x="535.4" y="405.9" text-anchor="middle">15 Dec</text>
<text x="585.8" y="405.9" text-anchor="middle">12 Jan</text>
<text x="636.2" y="405.9" text-anchor="middle">9 Feb</text>
<text x="686.7" y="405.9" text-anchor="middle">18 Mar</text>
<text x="737.1" y="405.9" text-anchor="middle">25 Apr</text>
<text x="787.6" y="405.9" text-anchor="middle">25 May</text>
<text x="838.0" y="405.9" text-anchor="middle">27 Jun</text>
<text x="888.5" y="405.9" text-anchor="middle">26 Jul</text>
<text x="939.0" y="405.9" text-anchor="middle">26 Aug</text>
<text x="989.4" y="405.9" text-anchor="middle">28 Sep</text>
<text x="1039.9" y="405.9" text-anchor="middle">27 Oct</text>
<text x="1090.3" y="405.9" text-anchor="middle">24 Nov</text>
<text x="1140.8" y="405.9" text-anchor="middle">22 Dec</text>
<text x="1191.2" y="405.9" text-anchor="middle">20 Jan</text>
<text x="1241.7" y="405.9" text-anchor="middle">17 Feb</text>
<text x="1292.1" y="405.9" text-anchor="middle">17 Mar</text>
</g>
<rect x="83.0" y="408.5" width="1219.0" height="60.5" fill="#090c1b"/>
<path d="M83.0,449.0 L84.5,449.7 L86.0,450.9 L87.5,451.6 L89.0,451.1 L90.5,450.5 L92.0,450.3 L93.5,450.2 L95.0,449.8 L96.5,449.4 L98.0,449.4 L99.5,449.7 L101.0,449.5 L102.5,449.5 L104.0,450.3 L105.5,451.6 L107.0,452.1 L108.5,452.4 L110.0,452.6 L111.5,452.8 L113.0,452.8 L114.5,452.8 L116.0,452.7 L117.5,452.4 L119.0,452.0 L120.5,451.6 L122.0,451.4 L123.5,451.9 L125.0,452.4 L126.5,452.5 L128.0,452.6 L129.5,452.8 L131.0,452.9 L132.5,452.9 L134.0,453.3 L135.5,454.4 L137.0,455.3 L138.5,455.1 L140.0,454.2 L141.5,453.2 L143.0,452.8 L144.6,452.8 L146.1,453.0 L147.6,453.4 L149.1,453.8 L150.6,453.7 L152.1,453.9 L153.6,454.1 L155.1,454.3 L156.6,454.1 L158.1,453.7 L159.6,453.5 L161.1,452.8 L162.6,452.0 L164.1,451.6 L165.6,451.4 L167.1,451.1 L168.6,451.2 L170.1,450.3 L171.6,449.3 L173.1,449.2 L174.6,449.8 L176.1,450.2 L177.6,450.4 L179.1,450.1 L180.6,450.0 L182.1,450.0 L183.6,450.0 L185.1,450.1 L186.6,450.4 L188.1,450.5 L189.6,450.6 L191.1,450.7 L192.6,450.8 L194.1,450.7 L195.6,450.5 L197.1,450.0 L198.6,449.3 L200.1,449.0 L201.6,449.1 L203.1,449.4 L204.6,449.7 L206.1,449.8 L207.6,449.8 L209.1,449.9 L210.6,450.4 L212.1,450.6 L213.6,450.8 L215.1,451.1 L216.6,451.4 L218.1,451.4 L219.6,451.4 L221.1,451.4 L222.6,451.7 L224.1,451.9 L225.6,452.1 L227.1,452.2 L228.6,452.4 L230.1,452.6 L231.6,452.9 L233.1,453.6 L234.6,454.1 L236.1,454.2 L237.6,454.1 L239.1,454.2 L240.6,454.3 L242.1,454.4 L243.6,454.0 L245.1,453.5 L246.6,453.5 L248.1,454.4 L249.6,455.8 L251.1,456.3 L252.6,456.3 L254.1,456.4 L255.6,456.6 L257.1,456.2 L258.6,455.9 L260.1,455.9 L261.6,456.0 L263.1,455.9 L264.6,455.6 L266.2,454.8 L267.7,453.7 L269.2,452.6 L270.7,452.2 L272.2,452.3 L273.7,452.3 L275.2,451.9 L276.7,451.3 L278.2,450.8 L279.7,450.7 L281.2,450.9 L282.7,451.3 L284.2,451.7 L285.7,451.8 L287.2,451.4 L288.7,450.9 L290.2,450.7 L291.7,450.6 L293.2,450.9 L294.7,451.3 L296.2,451.8 L297.7,452.5 L299.2,453.4 L300.7,454.2 L302.2,455.1 L303.7,456.5 L305.2,457.1 L306.7,457.2 L308.2,456.4 L309.7,455.1 L311.2,454.3 L312.7,454.2 L314.2,454.4 L315.7,454.8 L317.2,454.9 L318.7,454.6 L320.2,454.8 L321.7,455.3 L323.2,455.7 L324.7,455.7 L326.2,455.3 L327.7,455.3 L329.2,455.3 L330.7,455.2 L332.2,455.0 L333.7,454.6 L335.2,453.8 L336.7,453.0 L338.2,452.6 L339.7,452.6 L341.2,452.9 L342.7,453.6 L344.2,454.6 L345.7,455.0 L347.2,455.1 L348.7,455.2 L350.2,455.3 L351.7,455.6 L353.2,455.7 L354.7,455.6 L356.2,455.7 L357.7,456.0 L359.2,456.5 L360.7,457.3 L362.2,457.8 L363.7,457.8 L365.2,457.6 L366.7,457.1 L368.2,456.5 L369.7,456.2 L371.2,456.0 L372.7,455.6 L374.2,455.0 L375.7,454.8 L377.2,455.0 L378.7,455.3 L380.2,455.4 L381.7,455.0 L383.2,454.3 L384.7,453.8 L386.2,453.4 L387.8,453.1 L389.3,453.0 L390.8,452.9 L392.3,452.9 L393.8,452.7 L395.3,452.8 L396.8,452.6 L398.3,452.2 L399.8,451.9 L401.3,451.8 L402.8,451.8 L404.3,452.2 L405.8,452.9 L407.3,453.8 L408.8,454.3 L410.3,454.3 L411.8,454.1 L413.3,453.7 L414.8,453.5 L416.3,453.6 L417.8,453.8 L419.3,454.1 L420.8,454.4 L422.3,454.3 L423.8,453.7 L425.3,453.2 L426.8,453.1 L428.3,452.5 L429.8,451.7 L431.3,451.1 L432.8,450.8 L434.3,450.7 L435.8,450.5 L437.3,450.3 L438.8,450.2 L440.3,450.3 L441.8,450.5 L443.3,450.8 L444.8,450.9 L446.3,450.9 L447.8,451.0 L449.3,451.1 L450.8,451.0 L452.3,450.5 L453.8,449.5 L455.3,448.6 L456.8,448.3 L458.3,448.6 L459.8,449.2 L461.3,449.7 L462.8,449.9 L464.3,450.1 L465.8,450.1 L467.3,449.1 L468.8,447.5 L470.3,446.5 L471.8,446.2 L473.3,446.0 L474.8,444.8 L476.3,442.3 L477.8,440.2 L479.3,439.8 L480.8,439.7 L482.3,439.6 L483.8,439.4 L485.3,438.8 L486.8,438.8 L488.3,438.9 L489.8,438.7 L491.3,438.2 L492.8,437.2 L494.3,436.0 L495.8,435.0 L497.3,434.7 L498.8,434.9 L500.3,435.1 L501.8,436.1 L503.3,437.2 L504.8,437.3 L506.3,436.5 L507.8,435.8 L509.3,435.6 L510.9,435.5 L512.4,435.5 L513.9,435.6 L515.4,435.8 L516.9,435.8 L518.4,435.4 L519.9,435.1 L521.4,434.8 L522.9,434.4 L524.4,434.0 L525.9,433.7 L527.4,434.2 L528.9,434.9 L530.4,434.6 L531.9,434.0 L533.4,433.6 L534.9,433.3 L536.4,433.2 L537.9,432.7 L539.4,431.7 L540.9,430.9 L542.4,431.0 L543.9,432.2 L545.4,433.9 L546.9,435.0 L548.4,435.3 L549.9,435.6 L551.4,436.1 L552.9,436.2 L554.4,435.5 L555.9,434.7 L557.4,434.7 L558.9,435.6 L560.4,436.5 L561.9,436.6 L563.4,436.8 L564.9,437.2 L566.4,437.5 L567.9,437.3 L569.4,436.6 L570.9,435.8 L572.4,435.3 L573.9,435.0 L575.4,434.9 L576.9,434.5 L578.4,434.1 L579.9,434.5 L581.4,436.1 L582.9,437.2 L584.4,437.3 L585.9,436.9 L587.4,436.7 L588.9,436.7 L590.4,436.7 L591.9,436.3 L593.4,435.3 L594.9,434.2 L596.4,433.4 L597.9,432.6 L599.4,431.9 L600.9,432.2 L602.4,432.5 L603.9,432.1 L605.4,431.4 L606.9,431.6 L608.4,431.9 L609.9,431.7 L611.4,431.5 L612.9,431.6 L614.4,432.1 L615.9,432.6 L617.4,432.9 L618.9,432.7 L620.4,432.1 L621.9,431.7 L623.4,432.1 L624.9,433.0 L626.4,433.9 L627.9,434.0 L629.4,434.1 L630.9,434.9 L632.5,435.6 L634.0,435.7 L635.5,435.8 L637.0,435.7 L638.5,435.7 L640.0,435.5 L641.5,435.5 L643.0,435.6 L644.5,435.6 L646.0,435.3 L647.5,435.3 L649.0,435.2 L650.5,435.3 L652.0,435.6 L653.5,436.0 L655.0,435.9 L656.5,435.4 L658.0,435.3 L659.5,435.6 L661.0,435.9 L662.5,436.1 L664.0,437.0 L665.5,438.4 L667.0,440.1 L668.5,441.4 L670.0,441.9 L671.5,441.3 L673.0,440.0 L674.5,439.6 L676.0,440.9 L677.5,442.9 L679.0,444.3 L680.5,444.1 L682.0,443.6 L683.5,443.1 L685.0,442.7 L686.5,442.4 L688.0,442.4 L689.5,442.2 L691.0,441.9 L692.5,441.2 L694.0,440.7 L695.5,440.6 L697.0,440.6 L698.5,441.2 L700.0,442.2 L701.5,442.8 L703.0,442.9 L704.5,442.6 L706.0,442.1 L707.5,441.8 L709.0,442.1 L710.5,442.5 L712.0,443.0 L713.5,443.9 L715.0,444.7 L716.5,444.2 L718.0,443.5 L719.5,443.2 L721.0,442.8 L722.5,442.1 L724.0,441.9 L725.5,441.8 L727.0,441.8 L728.5,441.8 L730.0,441.5 L731.5,440.5 L733.0,438.9 L734.5,437.8 L736.0,437.4 L737.5,437.2 L739.0,437.1 L740.5,437.0 L742.0,436.9 L743.5,436.8 L745.0,436.7 L746.5,436.6 L748.0,436.2 L749.5,435.9 L751.0,435.8 L752.5,436.0 L754.1,436.3 L755.6,436.5 L757.1,436.5 L758.6,435.5 L760.1,434.0 L761.6,432.6 L763.1,432.2 L764.6,431.9 L766.1,431.8 L767.6,432.0 L769.1,432.0 L770.6,431.9 L772.1,432.1 L773.6,432.1 L775.1,432.0 L776.6,431.7 L778.1,431.4 L779.6,430.8 L781.1,430.2 L782.6,429.3 L784.1,428.8 L785.6,429.1 L787.1,429.5 L788.6,429.7 L790.1,429.6 L791.6,429.3 L793.1,429.4 L794.6,429.8 L796.1,430.4 L797.6,431.0 L799.1,431.3 L800.6,431.5 L802.1,432.1 L803.6,432.8 L805.1,432.4 L806.6,431.0 L808.1,429.5 L809.6,428.9 L811.1,428.9 L812.6,429.4 L814.1,430.2 L815.6,430.9 L817.1,431.1 L818.6,431.2 L820.1,431.4 L821.6,431.5 L823.1,431.5 L824.6,431.5 L826.1,431.8 L827.6,432.5 L829.1,433.3 L830.6,433.9 L832.1,433.4 L833.6,432.0 L835.1,430.6 L836.6,430.1 L838.1,430.1 L839.6,430.1 L841.1,430.0 L842.6,429.9 L844.1,430.0 L845.6,430.5 L847.1,430.7 L848.6,430.0 L850.1,429.3 L851.6,429.3 L853.1,429.6 L854.6,429.7 L856.1,429.6 L857.6,429.6 L859.1,429.4 L860.6,428.6 L862.1,427.3 L863.6,425.9 L865.1,425.1 L866.6,424.8 L868.1,424.4 L869.6,424.0 L871.1,424.1 L872.6,424.3 L874.1,424.1 L875.7,423.8 L877.2,424.1 L878.7,424.5 L880.2,424.8 L881.7,424.9 L883.2,424.7 L884.7,424.1 L886.2,423.8 L887.7,424.1 L889.2,424.5 L890.7,424.8 L892.2,424.6 L893.7,424.3 L895.2,424.3 L896.7,424.5 L898.2,424.9 L899.7,425.6 L901.2,426.5 L902.7,426.9 L904.2,426.7 L905.7,426.4 L907.2,426.5 L908.7,426.5 L910.2,426.0 L911.7,425.3 L913.2,425.0 L914.7,424.6 L916.2,424.0 L917.7,423.1 L919.2,422.3 L920.7,422.9 L922.2,424.1 L923.7,424.8 L925.2,425.0 L926.7,425.2 L928.2,425.8 L929.7,426.5 L931.2,426.8 L932.7,426.7 L934.2,426.3 L935.7,425.7 L937.2,426.0 L938.7,427.1 L940.2,428.3 L941.7,428.5 L943.2,428.3 L944.7,428.1 L946.2,428.4 L947.7,429.0 L949.2,429.3 L950.7,429.3 L952.2,428.9 L953.7,428.2 L955.2,427.9 L956.7,428.0 L958.2,428.3 L959.7,428.5 L961.2,428.5 L962.7,428.3 L964.2,428.2 L965.7,427.9 L967.2,427.3 L968.7,426.3 L970.2,425.8 L971.7,425.7 L973.2,425.8 L974.7,425.8 L976.2,425.6 L977.7,425.4 L979.2,425.2 L980.7,425.3 L982.2,425.7 L983.7,426.3 L985.2,426.9 L986.7,427.3 L988.2,427.5 L989.7,427.8 L991.2,428.4 L992.7,428.3 L994.2,427.4 L995.7,426.0 L997.2,424.4 L998.8,423.2 L1000.3,422.7 L1001.8,422.5 L1003.3,422.1 L1004.8,421.5 L1006.3,421.5 L1007.8,422.0 L1009.3,422.4 L1010.8,422.9 L1012.3,425.0 L1013.8,427.4 L1015.3,427.5 L1016.8,426.6 L1018.3,426.4 L1019.8,426.9 L1021.3,427.7 L1022.8,428.7 L1024.3,429.7 L1025.8,430.2 L1027.3,430.3 L1028.8,429.7 L1030.3,429.0 L1031.8,428.9 L1033.3,429.3 L1034.8,429.4 L1036.3,428.8 L1037.8,428.3 L1039.3,427.9 L1040.8,427.1 L1042.3,426.3 L1043.8,426.4 L1045.3,427.1 L1046.8,427.9 L1048.3,428.5 L1049.8,428.8 L1051.3,428.8 L1052.8,428.8 L1054.3,429.1 L1055.8,430.1 L1057.3,431.7 L1058.8,432.6 L1060.3,432.6 L1061.8,432.7 L1063.3,432.7 L1064.8,432.5 L1066.3,431.6 L1067.8,430.8 L1069.3,431.1 L1070.8,431.9 L1072.3,432.8 L1073.8,434.0 L1075.3,435.2 L1076.8,436.1 L1078.3,436.4 L1079.8,436.9 L1081.3,437.6 L1082.8,438.0 L1084.3,438.0 L1085.8,439.1 L1087.3,440.7 L1088.8,441.5 L1090.3,441.3 L1091.8,440.8 L1093.3,440.4 L1094.8,440.2 L1096.3,439.9 L1097.8,439.3 L1099.3,438.7 L1100.8,438.6 L1102.3,438.8 L1103.8,439.5 L1105.3,440.4 L1106.8,440.2 L1108.3,438.9 L1109.8,437.8 L1111.3,437.8 L1112.8,438.4 L1114.3,439.1 L1115.8,439.3 L1117.3,439.1 L1118.8,438.9 L1120.4,438.6 L1121.9,438.4 L1123.4,438.5 L1124.9,438.6 L1126.4,438.7 L1127.9,438.8 L1129.4,439.2 L1130.9,440.0 L1132.4,440.7 L1133.9,440.8 L1135.4,441.0 L1136.9,441.2 L1138.4,440.8 L1139.9,440.1 L1141.4,440.0 L1142.9,439.9 L1144.4,439.9 L1145.9,440.1 L1147.4,440.4 L1148.9,440.4 L1150.4,440.4 L1151.9,440.2 L1153.4,440.1 L1154.9,440.1 L1156.4,440.1 L1157.9,440.1 L1159.4,440.1 L1160.9,439.7 L1162.4,439.1 L1163.9,438.6 L1165.4,438.1 L1166.9,437.6 L1168.4,437.4 L1169.9,437.6 L1171.4,438.1 L1172.9,438.4 L1174.4,438.6 L1175.9,438.8 L1177.4,438.7 L1178.9,438.6 L1180.4,438.1 L1181.9,437.2 L1183.4,436.2 L1184.9,436.0 L1186.4,436.1 L1187.9,436.3 L1189.4,436.6 L1190.9,437.2 L1192.4,438.0 L1193.9,438.7 L1195.4,439.2 L1196.9,439.2 L1198.4,439.2 L1199.9,439.3 L1201.4,439.5 L1202.9,439.9 L1204.4,440.0 L1205.9,439.7 L1207.4,439.5 L1208.9,439.9 L1210.4,440.9 L1211.9,441.8 L1213.4,442.7 L1214.9,443.9 L1216.4,445.0 L1217.9,445.2 L1219.4,445.7 L1220.9,446.9 L1222.4,449.4 L1223.9,451.2 L1225.4,451.0 L1226.9,449.6 L1228.4,449.5 L1229.9,449.3 L1231.4,449.5 L1232.9,450.0 L1234.4,450.6 L1235.9,451.0 L1237.4,450.7 L1238.9,450.1 L1240.4,449.8 L1242.0,450.0 L1243.5,450.2 L1245.0,450.6 L1246.5,451.0 L1248.0,451.2 L1249.5,451.0 L1251.0,450.8 L1252.5,450.8 L1254.0,451.1 L1255.5,451.7 L1257.0,451.9 L1258.5,451.4 L1260.0,450.7 L1261.5,450.8 L1263.0,451.2 L1264.5,451.5 L1266.0,451.5 L1267.5,451.1 L1269.0,450.6 L1270.5,449.8 L1272.0,448.9 L1273.5,448.7 L1275.0,449.3 L1276.5,450.2 L1278.0,450.8 L1279.5,451.1 L1281.0,450.6 L1282.5,449.9 L1284.0,449.6 L1285.5,449.3 L1287.0,448.9 L1288.5,448.9 L1290.0,449.0 L1291.5,448.4 L1293.0,447.5 L1294.5,447.0 L1296.0,447.6 L1297.5,448.5 L1299.0,449.1 L1300.5,449.3 L1302.0,449.3 L1302.0,469.0 L83.0,469.0 Z" fill="#232a48"/>
<path d="M83.0,449.0 L84.5,449.7 L86.0,450.9 L87.5,451.6 L89.0,451.1 L90.5,450.5 L92.0,450.3 L93.5,450.2 L95.0,449.8 L96.5,449.4 L98.0,449.4 L99.5,449.7 L101.0,449.5 L102.5,449.5 L104.0,450.3 L105.5,451.6 L107.0,452.1 L108.5,452.4 L110.0,452.6 L111.5,452.8 L113.0,452.8 L114.5,452.8 L116.0,452.7 L117.5,452.4 L119.0,452.0 L120.5,451.6 L122.0,451.4 L123.5,451.9 L125.0,452.4 L126.5,452.5 L128.0,452.6 L129.5,452.8 L131.0,452.9 L132.5,452.9 L134.0,453.3 L135.5,454.4 L137.0,455.3 L138.5,455.1 L140.0,454.2 L141.5,453.2 L143.0,452.8 L144.6,452.8 L146.1,453.0 L147.6,453.4 L149.1,453.8 L150.6,453.7 L152.1,453.9 L153.6,454.1 L155.1,454.3 L156.6,454.1 L158.1,453.7 L159.6,453.5 L161.1,452.8 L162.6,452.0 L164.1,451.6 L165.6,451.4 L167.1,451.1 L168.6,451.2 L170.1,450.3 L171.6,449.3 L173.1,449.2 L174.6,449.8 L176.1,450.2 L177.6,450.4 L179.1,450.1 L180.6,450.0 L182.1,450.0 L183.6,450.0 L185.1,450.1 L186.6,450.4 L188.1,450.5 L189.6,450.6 L191.1,450.7 L192.6,450.8 L194.1,450.7 L195.6,450.5 L197.1,450.0 L198.6,449.3 L200.1,449.0 L201.6,449.1 L203.1,449.4 L204.6,449.7 L206.1,449.8 L207.6,449.8 L209.1,449.9 L210.6,450.4 L212.1,450.6 L213.6,450.8 L215.1,451.1 L216.6,451.4 L218.1,451.4 L219.6,451.4 L221.1,451.4 L222.6,451.7 L224.1,451.9 L225.6,452.1 L227.1,452.2 L228.6,452.4 L230.1,452.6 L231.6,452.9 L233.1,453.6 L234.6,454.1 L236.1,454.2 L237.6,454.1 L239.1,454.2 L240.6,454.3 L242.1,454.4 L243.6,454.0 L245.1,453.5 L246.6,453.5 L248.1,454.4 L249.6,455.8 L251.1,456.3 L252.6,456.3 L254.1,456.4 L255.6,456.6 L257.1,456.2 L258.6,455.9 L260.1,455.9 L261.6,456.0 L263.1,455.9 L264.6,455.6 L266.2,454.8 L267.7,453.7 L269.2,452.6 L270.7,452.2 L272.2,452.3 L273.7,452.3 L275.2,451.9 L276.7,451.3 L278.2,450.8 L279.7,450.7 L281.2,450.9 L282.7,451.3 L284.2,451.7 L285.7,451.8 L287.2,451.4 L288.7,450.9 L290.2,450.7 L291.7,450.6 L293.2,450.9 L294.7,451.3 L296.2,451.8 L297.7,452.5 L299.2,453.4 L300.7,454.2 L302.2,455.1 L303.7,456.5 L305.2,457.1 L306.7,457.2 L308.2,456.4 L309.7,455.1 L311.2,454.3 L312.7,454.2 L314.2,454.4 L315.7,454.8 L317.2,454.9 L318.7,454.6 L320.2,454.8 L321.7,455.3 L323.2,455.7 L324.7,455.7 L326.2,455.3 L327.7,455.3 L329.2,455.3 L330.7,455.2 L332.2,455.0 L333.7,454.6 L335.2,453.8 L336.7,453.0 L338.2,452.6 L339.7,452.6 L341.2,452.9 L342.7,453.6 L344.2,454.6 L345.7,455.0 L347.2,455.1 L348.7,455.2 L350.2,455.3 L351.7,455.6 L353.2,455.7 L354.7,455.6 L356.2,455.7 L357.7,456.0 L359.2,456.5 L360.7,457.3 L362.2,457.8 L363.7,457.8 L365.2,457.6 L366.7,457.1 L368.2,456.5 L369.7,456.2 L371.2,456.0 L372.7,455.6 L374.2,455.0 L375.7,454.8 L377.2,455.0 L378.7,455.3 L380.2,455.4 L381.7,455.0 L383.2,454.3 L384.7,453.8 L386.2,453.4 L387.8,453.1 L389.3,453.0 L390.8,452.9 L392.3,452.9 L393.8,452.7 L395.3,452.8 L396.8,452.6 L398.3,452.2 L399.8,451.9 L401.3,451.8 L402.8,451.8 L404.3,452.2 L405.8,452.9 L407.3,453.8 L408.8,454.3 L410.3,454.3 L411.8,454.1 L413.3,453.7 L414.8,453.5 L416.3,453.6 L417.8,453.8 L419.3,454.1 L420.8,454.4 L422.3,454.3 L423.8,453.7 L425.3,453.2 L426.8,453.1 L428.3,452.5 L429.8,451.7 L431.3,451.1 L432.8,450.8 L434.3,450.7 L435.8,450.5 L437.3,450.3 L438.8,450.2 L440.3,450.3 L441.8,450.5 L443.3,450.8 L444.8,450.9 L446.3,450.9 L447.8,451.0 L449.3,451.1 L450.8,451.0 L452.3,450.5 L453.8,449.5 L455.3,448.6 L456.8,448.3 L458.3,448.6 L459.8,449.2 L461.3,449.7 L462.8,449.9 L464.3,450.1 L465.8,450.1 L467.3,449.1 L468.8,447.5 L470.3,446.5 L471.8,446.2 L473.3,446.0 L474.8,444.8 L476.3,442.3 L477.8,440.2 L479.3,439.8 L480.8,439.7 L482.3,439.6 L483.8,439.4 L485.3,438.8 L486.8,438.8 L488.3,438.9 L489.8,438.7 L491.3,438.2 L492.8,437.2 L494.3,436.0 L495.8,435.0 L497.3,434.7 L498.8,434.9 L500.3,435.1 L501.8,436.1 L503.3,437.2 L504.8,437.3 L506.3,436.5 L507.8,435.8 L509.3,435.6 L510.9,435.5 L512.4,435.5 L513.9,435.6 L515.4,435.8 L516.9,435.8 L518.4,435.4 L519.9,435.1 L521.4,434.8 L522.9,434.4 L524.4,434.0 L525.9,433.7 L527.4,434.2 L528.9,434.9 L530.4,434.6 L531.9,434.0 L533.4,433.6 L534.9,433.3 L536.4,433.2 L537.9,432.7 L539.4,431.7 L540.9,430.9 L542.4,431.0 L543.9,432.2 L545.4,433.9 L546.9,435.0 L548.4,435.3 L549.9,435.6 L551.4,436.1 L552.9,436.2 L554.4,435.5 L555.9,434.7 L557.4,434.7 L558.9,435.6 L560.4,436.5 L561.9,436.6 L563.4,436.8 L564.9,437.2 L566.4,437.5 L567.9,437.3 L569.4,436.6 L570.9,435.8 L572.4,435.3 L573.9,435.0 L575.4,434.9 L576.9,434.5 L578.4,434.1 L579.9,434.5 L581.4,436.1 L582.9,437.2 L584.4,437.3 L585.9,436.9 L587.4,436.7 L588.9,436.7 L590.4,436.7 L591.9,436.3 L593.4,435.3 L594.9,434.2 L596.4,433.4 L597.9,432.6 L599.4,431.9 L600.9,432.2 L602.4,432.5 L603.9,432.1 L605.4,431.4 L606.9,431.6 L608.4,431.9 L609.9,431.7 L611.4,431.5 L612.9,431.6 L614.4,432.1 L615.9,432.6 L617.4,432.9 L618.9,432.7 L620.4,432.1 L621.9,431.7 L623.4,432.1 L624.9,433.0 L626.4,433.9 L627.9,434.0 L629.4,434.1 L630.9,434.9 L632.5,435.6 L634.0,435.7 L635.5,435.8 L637.0,435.7 L638.5,435.7 L640.0,435.5 L641.5,435.5 L643.0,435.6 L644.5,435.6 L646.0,435.3 L647.5,435.3 L649.0,435.2 L650.5,435.3 L652.0,435.6 L653.5,436.0 L655.0,435.9 L656.5,435.4 L658.0,435.3 L659.5,435.6 L661.0,435.9 L662.5,436.1 L664.0,437.0 L665.5,438.4 L667.0,440.1 L668.5,441.4 L670.0,441.9 L671.5,441.3 L673.0,440.0 L674.5,439.6 L676.0,440.9 L677.5,442.9 L679.0,444.3 L680.5,444.1 L682.0,443.6 L683.5,443.1 L685.0,442.7 L686.5,442.4 L688.0,442.4 L689.5,442.2 L691.0,441.9 L692.5,441.2 L694.0,440.7 L695.5,440.6 L697.0,440.6 L698.5,441.2 L700.0,442.2 L701.5,442.8 L703.0,442.9 L704.5,442.6 L706.0,442.1 L707.5,441.8 L709.0,442.1 L710.5,442.5 L712.0,443.0 L713.5,443.9 L715.0,444.7 L716.5,444.2 L718.0,443.5 L719.5,443.2 L721.0,442.8 L722.5,442.1 L724.0,441.9 L725.5,441.8 L727.0,441.8 L728.5,441.8 L730.0,441.5 L731.5,440.5 L733.0,438.9 L734.5,437.8 L736.0,437.4 L737.5,437.2 L739.0,437.1 L740.5,437.0 L742.0,436.9 L743.5,436.8 L745.0,436.7 L746.5,436.6 L748.0,436.2 L749.5,435.9 L751.0,435.8 L752.5,436.0 L754.1,436.3 L755.6,436.5 L757.1,436.5 L758.6,435.5 L760.1,434.0 L761.6,432.6 L763.1,432.2 L764.6,431.9 L766.1,431.8 L767.6,432.0 L769.1,432.0 L770.6,431.9 L772.1,432.1 L773.6,432.1 L775.1,432.0 L776.6,431.7 L778.1,431.4 L779.6,430.8 L781.1,430.2 L782.6,429.3 L784.1,428.8 L785.6,429.1 L787.1,429.5 L788.6,429.7 L790.1,429.6 L791.6,429.3 L793.1,429.4 L794.6,429.8 L796.1,430.4 L797.6,431.0 L799.1,431.3 L800.6,431.5 L802.1,432.1 L803.6,432.8 L805.1,432.4 L806.6,431.0 L808.1,429.5 L809.6,428.9 L811.1,428.9 L812.6,429.4 L814.1,430.2 L815.6,430.9 L817.1,431.1 L818.6,431.2 L820.1,431.4 L821.6,431.5 L823.1,431.5 L824.6,431.5 L826.1,431.8 L827.6,432.5 L829.1,433.3 L830.6,433.9 L832.1,433.4 L833.6,432.0 L835.1,430.6 L836.6,430.1 L838.1,430.1 L839.6,430.1 L841.1,430.0 L842.6,429.9 L844.1,430.0 L845.6,430.5 L847.1,430.7 L848.6,430.0 L850.1,429.3 L851.6,429.3 L853.1,429.6 L854.6,429.7 L856.1,429.6 L857.6,429.6 L859.1,429.4 L860.6,428.6 L862.1,427.3 L863.6,425.9 L865.1,425.1 L866.6,424.8 L868.1,424.4 L869.6,424.0 L871.1,424.1 L872.6,424.3 L874.1,424.1 L875.7,423.8 L877.2,424.1 L878.7,424.5 L880.2,424.8 L881.7,424.9 L883.2,424.7 L884.7,424.1 L886.2,423.8 L887.7,424.1 L889.2,424.5 L890.7,424.8 L892.2,424.6 L893.7,424.3 L895.2,424.3 L896.7,424.5 L898.2,424.9 L899.7,425.6 L901.2,426.5 L902.7,426.9 L904.2,426.7 L905.7,426.4 L907.2,426.5 L908.7,426.5 L910.2,426.0 L911.7,425.3 L913.2,425.0 L914.7,424.6 L916.2,424.0 L917.7,423.1 L919.2,422.3 L920.7,422.9 L922.2,424.1 L923.7,424.8 L925.2,425.0 L926.7,425.2 L928.2,425.8 L929.7,426.5 L931.2,426.8 L932.7,426.7 L934.2,426.3 L935.7,425.7 L937.2,426.0 L938.7,427.1 L940.2,428.3 L941.7,428.5 L943.2,428.3 L944.7,428.1 L946.2,428.4 L947.7,429.0 L949.2,429.3 L950.7,429.3 L952.2,428.9 L953.7,428.2 L955.2,427.9 L956.7,428.0 L958.2,428.3 L959.7,428.5 L961.2,428.5 L962.7,428.3 L964.2,428.2 L965.7,427.9 L967.2,427.3 L968.7,426.3 L970.2,425.8 L971.7,425.7 L973.2,425.8 L974.7,425.8 L976.2,425.6 L977.7,425.4 L979.2,425.2 L980.7,425.3 L982.2,425.7 L983.7,426.3 L985.2,426.9 L986.7,427.3 L988.2,427.5 L989.7,427.8 L991.2,428.4 L992.7,428.3 L994.2,427.4 L995.7,426.0 L997.2,424.4 L998.8,423.2 L1000.3,422.7 L1001.8,422.5 L1003.3,422.1 L1004.8,421.5 L1006.3,421.5 L1007.8,422.0 L1009.3,422.4 L1010.8,422.9 L1012.3,425.0 L1013.8,427.4 L1015.3,427.5 L1016.8,426.6 L1018.3,426.4 L1019.8,426.9 L1021.3,427.7 L1022.8,428.7 L1024.3,429.7 L1025.8,430.2 L1027.3,430.3 L1028.8,429.7 L1030.3,429.0 L1031.8,428.9 L1033.3,429.3 L1034.8,429.4 L1036.3,428.8 L1037.8,428.3 L1039.3,427.9 L1040.8,427.1 L1042.3,426.3 L1043.8,426.4 L1045.3,427.1 L1046.8,427.9 L1048.3,428.5 L1049.8,428.8 L1051.3,428.8 L1052.8,428.8 L1054.3,429.1 L1055.8,430.1 L1057.3,431.7 L1058.8,432.6 L1060.3,432.6 L1061.8,432.7 L1063.3,432.7 L1064.8,432.5 L1066.3,431.6 L1067.8,430.8 L1069.3,431.1 L1070.8,431.9 L1072.3,432.8 L1073.8,434.0 L1075.3,435.2 L1076.8,436.1 L1078.3,436.4 L1079.8,436.9 L1081.3,437.6 L1082.8,438.0 L1084.3,438.0 L1085.8,439.1 L1087.3,440.7 L1088.8,441.5 L1090.3,441.3 L1091.8,440.8 L1093.3,440.4 L1094.8,440.2 L1096.3,439.9 L1097.8,439.3 L1099.3,438.7 L1100.8,438.6 L1102.3,438.8 L1103.8,439.5 L1105.3,440.4 L1106.8,440.2 L1108.3,438.9 L1109.8,437.8 L1111.3,437.8 L1112.8,438.4 L1114.3,439.1 L1115.8,439.3 L1117.3,439.1 L1118.8,438.9 L1120.4,438.6 L1121.9,438.4 L1123.4,438.5 L1124.9,438.6 L1126.4,438.7 L1127.9,438.8 L1129.4,439.2 L1130.9,440.0 L1132.4,440.7 L1133.9,440.8 L1135.4,441.0 L1136.9,441.2 L1138.4,440.8 L1139.9,440.1 L1141.4,440.0 L1142.9,439.9 L1144.4,439.9 L1145.9,440.1 L1147.4,440.4 L1148.9,440.4 L1150.4,440.4 L1151.9,440.2 L1153.4,440.1 L1154.9,440.1 L1156.4,440.1 L1157.9,440.1 L1159.4,440.1 L1160.9,439.7 L1162.4,439.1 L1163.9,438.6 L1165.4,438.1 L1166.9,437.6 L1168.4,437.4 L1169.9,437.6 L1171.4,438.1 L1172.9,438.4 L1174.4,438.6 L1175.9,438.8 L1177.4,438.7 L1178.9,438.6 L1180.4,438.1 L1181.9,437.2 L1183.4,436.2 L1184.9,436.0 L1186.4,436.1 L1187.9,436.3 L1189.4,436.6 L1190.9,437.2 L1192.4,438.0 L1193.9,438.7 L1195.4,439.2 L1196.9,439.2 L1198.4,439.2 L1199.9,439.3 L1201.4,439.5 L1202.9,439.9 L1204.4,440.0 L1205.9,439.7 L1207.4,439.5 L1208.9,439.9 L1210.4,440.9 L1211.9,441.8 L1213.4,442.7 L1214.9,443.9 L1216.4,445.0 L1217.9,445.2 L1219.4,445.7 L1220.9,446.9 L1222.4,449.4 L1223.9,451.2 L1225.4,451.0 L1226.9,449.6 L1228.4,449.5 L1229.9,449.3 L1231.4,449.5 L1232.9,450.0 L1234.4,450.6 L1235.9,451.0 L1237.4,450.7 L1238.9,450.1 L1240.4,449.8 L1242.0,450.0 L1243.5,450.2 L1245.0,450.6 L1246.5,451.0 L1248.0,451.2 L1249.5,451.0 L1251.0,450.8 L1252.5,450.8 L1254.0,451.1 L1255.5,451.7 L1257.0,451.9 L1258.5,451.4 L1260.0,450.7 L1261.5,450.8 L1263.0,451.2 L1264.5,451.5 L1266.0,451.5 L1267.5,451.1 L1269.0,450.6 L1270.5,449.8 L1272.0,448.9 L1273.5,448.7 L1275.0,449.3 L1276.5,450.2 L1278.0,450.8 L1279.5,451.1 L1281.0,450.6 L1282.5,449.9 L1284.0,449.6 L1285.5,449.3 L1287.0,448.9 L1288.5,448.9 L1290.0,449.0 L1291.5,448.4 L1293.0,447.5 L1294.5,447.0 L1296.0,447.6 L1297.5,448.5 L1299.0,449.1 L1300.5,449.3 L1302.0,449.3" fill="none" stroke="#6b76a3" stroke-width="1"/>
<line x1="83.5" x2="83.5" y1="408.5" y2="469.0" stroke="#3a3f57" stroke-opacity="0.4" stroke-width="1"/>
<line x1="1301.5" x2="1301.5" y1="408.5" y2="469.0" stroke="#3a3f57" stroke-opacity="0.4" stroke-width="1"/>
<rect x="79.3" y="431.5" width="9.4" height="17.5" rx="4.5" fill="#41444f"/>
<line x1="82.8" x2="82.8" y1="437" y2="443.5" stroke="#9a9dab" stroke-width="1"/>
<line x1="85.2" x2="85.2" y1="437" y2="443.5" stroke="#9a9dab" stroke-width="1"/>
<rect x="1296.8" y="431.5" width="9.4" height="17.5" rx="4.5" fill="#41444f"/>
<line x1="1300.3" x2="1300.3" y1="437" y2="443.5" stroke="#9a9dab" stroke-width="1"/>
<line x1="1302.7" x2="1302.7" y1="437" y2="443.5" stroke="#9a9dab" stroke-width="1"/>
</svg>
<div class="title">Bitcoin Exchanges Balance</div>
<div class="btn" style="left:1210px;width:53px"><span style="left:8.5px;letter-spacing:0.45px">All</span>
<svg width="10" height="16" viewBox="0 0 10 16" style="position:absolute;left:30.5px;top:10.5px"><path d="M2.3,5.2 L5,2.5 L7.7,5.2 M2.3,10.8 L5,13.5 L7.7,10.8" fill="none" stroke="#c8cad0" stroke-width="1.3" stroke-linecap="round" stroke-linejoin="round"/></svg></div>
<div class="btn" style="left:1279px;width:100px"><span style="left:11.5px">BTC</span>
<svg width="10" height="6" viewBox="0 0 10 6" style="position:absolute;left:76px;top:17px"><path d="M1,0.5 L9,0.5 L5,4.8 Z" fill="#c8cad0"/></svg></div>
<div class="sq" style="left:630px;background:#ebbd57"></div>
<div class="legend" style="left:645px;letter-spacing:-0.33px">BTC Price</div>
<div class="sq" style="left:709.5px;background:#33c688"></div>
<div class="legend" style="left:725.3px;letter-spacing:-0.05px">Balance</div>
</body></html>
